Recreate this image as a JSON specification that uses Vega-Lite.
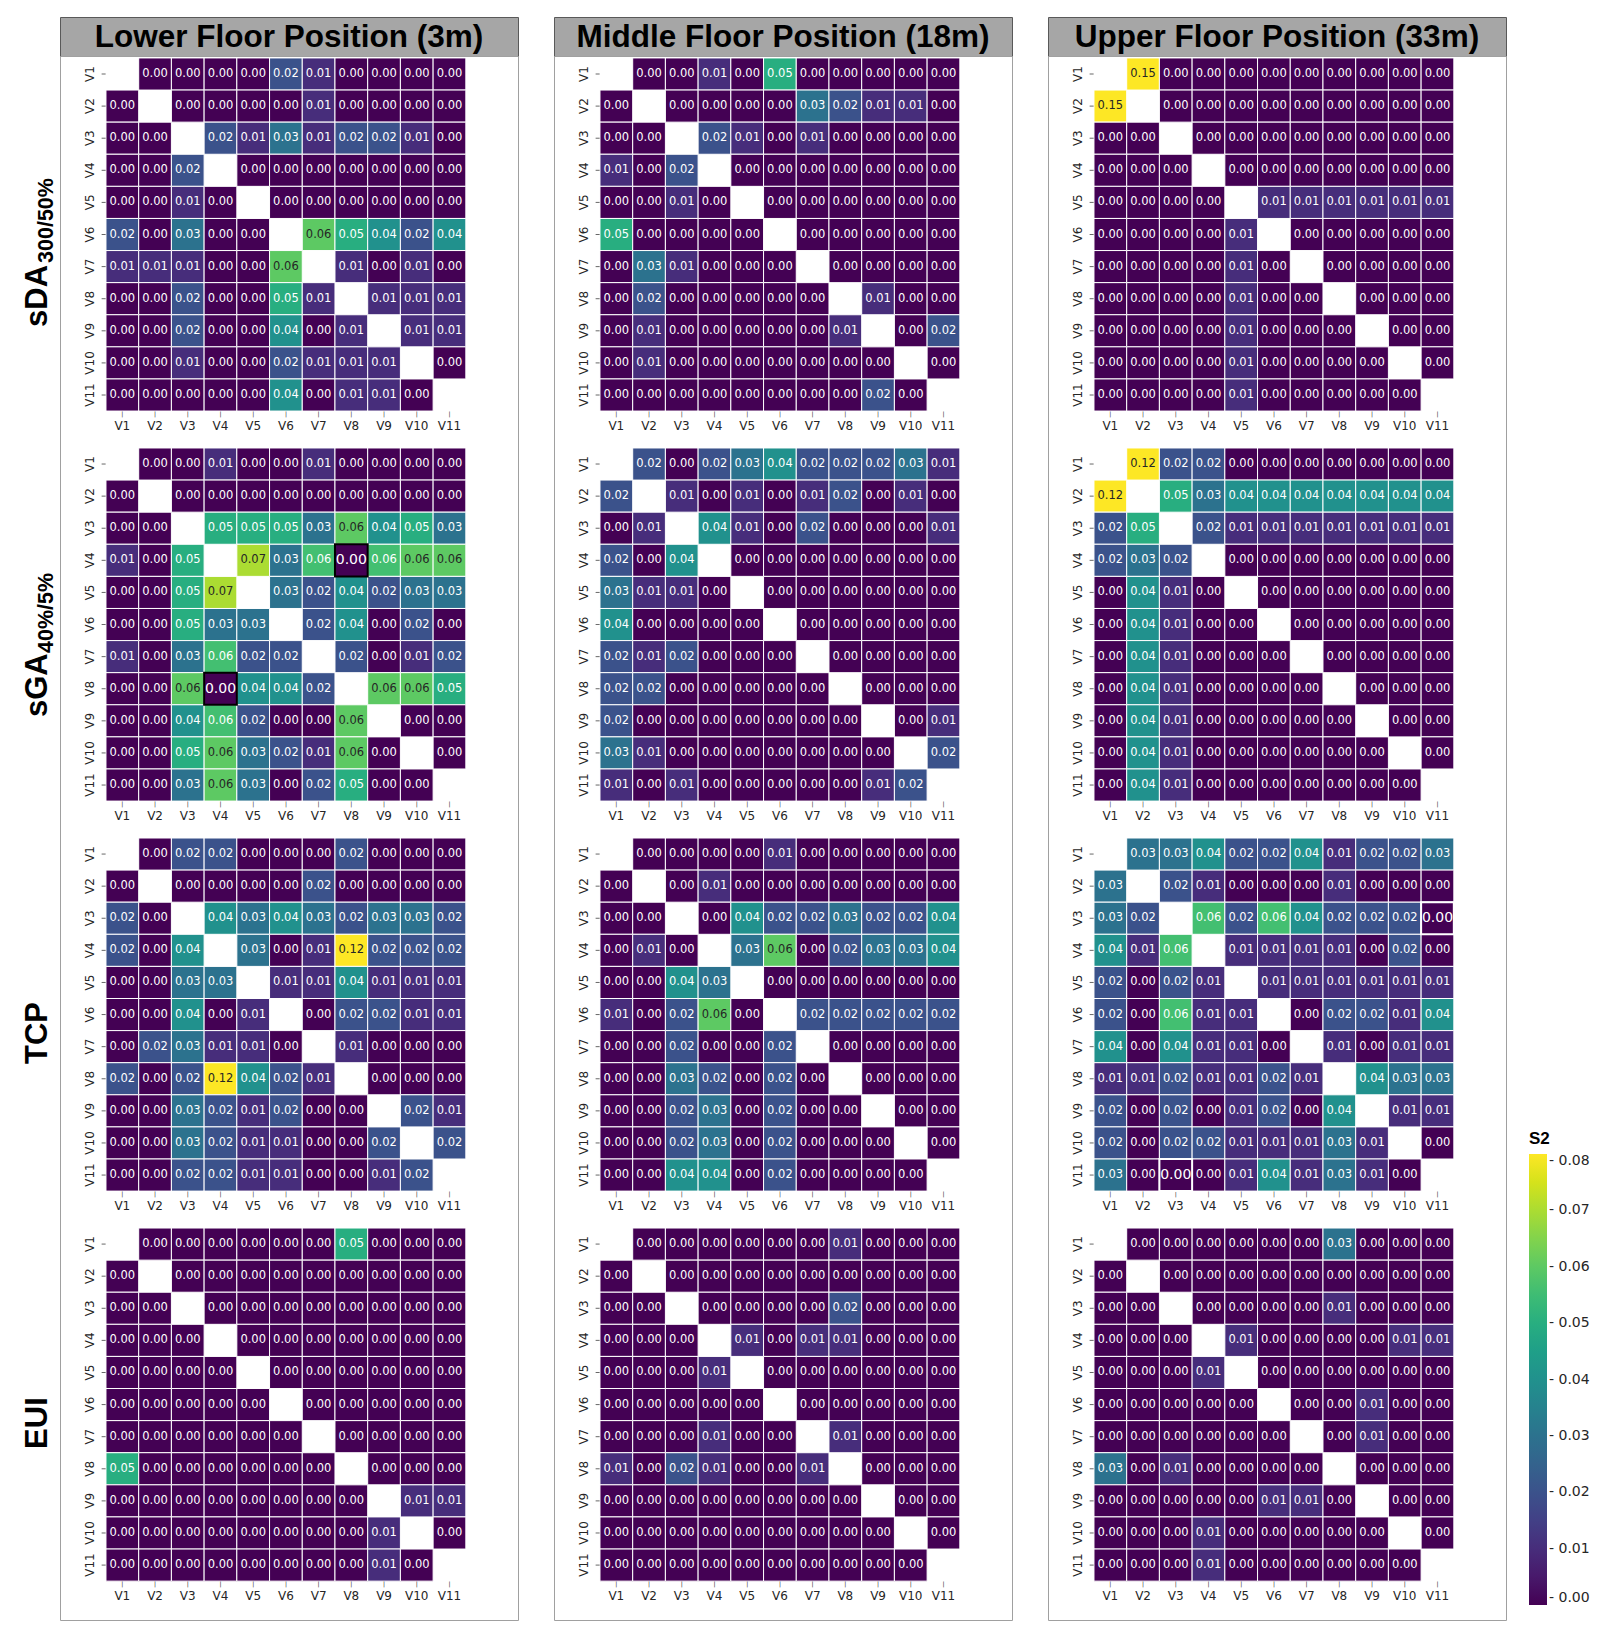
{
"$schema":"https://vega.github.io/schema/vega-lite/v6.json",
"padding":{"left":21,"top":16,"right":5,"bottom":5},
"autosize":{"type":"pad"},
"background":"white",
"config":{"view":{"stroke":null},"font":"DejaVu Sans"},
"datasets":{
"rows":[{"m":"sDA","main":"sDA","sub":"300/50%"},{"m":"sGA","main":"sGA","sub":"40%/5%"},{"m":"TCP","main":"TCP","sub":""},{"m":"EUI","main":"EUI","sub":""}],
"hl":[{"f":"L","m":"sGA","r":"V4","c":"V8","v":0},{"f":"L","m":"sGA","r":"V8","c":"V4","v":0},{"f":"U","m":"TCP","r":"V3","c":"V11","v":0},{"f":"U","m":"TCP","r":"V11","c":"V3","v":0}],
"L":[
{"m":"sDA","r":"V1","c":"V2","v":0},{"m":"sDA","r":"V1","c":"V3","v":0},{"m":"sDA","r":"V1","c":"V4","v":0},{"m":"sDA","r":"V1","c":"V5","v":0},{"m":"sDA","r":"V1","c":"V6","v":0.02},{"m":"sDA","r":"V1","c":"V7","v":0.01},{"m":"sDA","r":"V1","c":"V8","v":0},{"m":"sDA","r":"V1","c":"V9","v":0},{"m":"sDA","r":"V1","c":"V10","v":0},{"m":"sDA","r":"V1","c":"V11","v":0},
{"m":"sDA","r":"V2","c":"V1","v":0},{"m":"sDA","r":"V2","c":"V3","v":0},{"m":"sDA","r":"V2","c":"V4","v":0},{"m":"sDA","r":"V2","c":"V5","v":0},{"m":"sDA","r":"V2","c":"V6","v":0},{"m":"sDA","r":"V2","c":"V7","v":0.01},{"m":"sDA","r":"V2","c":"V8","v":0},{"m":"sDA","r":"V2","c":"V9","v":0},{"m":"sDA","r":"V2","c":"V10","v":0},{"m":"sDA","r":"V2","c":"V11","v":0},
{"m":"sDA","r":"V3","c":"V1","v":0},{"m":"sDA","r":"V3","c":"V2","v":0},{"m":"sDA","r":"V3","c":"V4","v":0.02},{"m":"sDA","r":"V3","c":"V5","v":0.01},{"m":"sDA","r":"V3","c":"V6","v":0.03},{"m":"sDA","r":"V3","c":"V7","v":0.01},{"m":"sDA","r":"V3","c":"V8","v":0.02},{"m":"sDA","r":"V3","c":"V9","v":0.02},{"m":"sDA","r":"V3","c":"V10","v":0.01},{"m":"sDA","r":"V3","c":"V11","v":0},
{"m":"sDA","r":"V4","c":"V1","v":0},{"m":"sDA","r":"V4","c":"V2","v":0},{"m":"sDA","r":"V4","c":"V3","v":0.02},{"m":"sDA","r":"V4","c":"V5","v":0},{"m":"sDA","r":"V4","c":"V6","v":0},{"m":"sDA","r":"V4","c":"V7","v":0},{"m":"sDA","r":"V4","c":"V8","v":0},{"m":"sDA","r":"V4","c":"V9","v":0},{"m":"sDA","r":"V4","c":"V10","v":0},{"m":"sDA","r":"V4","c":"V11","v":0},
{"m":"sDA","r":"V5","c":"V1","v":0},{"m":"sDA","r":"V5","c":"V2","v":0},{"m":"sDA","r":"V5","c":"V3","v":0.01},{"m":"sDA","r":"V5","c":"V4","v":0},{"m":"sDA","r":"V5","c":"V6","v":0},{"m":"sDA","r":"V5","c":"V7","v":0},{"m":"sDA","r":"V5","c":"V8","v":0},{"m":"sDA","r":"V5","c":"V9","v":0},{"m":"sDA","r":"V5","c":"V10","v":0},{"m":"sDA","r":"V5","c":"V11","v":0},
{"m":"sDA","r":"V6","c":"V1","v":0.02},{"m":"sDA","r":"V6","c":"V2","v":0},{"m":"sDA","r":"V6","c":"V3","v":0.03},{"m":"sDA","r":"V6","c":"V4","v":0},{"m":"sDA","r":"V6","c":"V5","v":0},{"m":"sDA","r":"V6","c":"V7","v":0.06},{"m":"sDA","r":"V6","c":"V8","v":0.05},{"m":"sDA","r":"V6","c":"V9","v":0.04},{"m":"sDA","r":"V6","c":"V10","v":0.02},{"m":"sDA","r":"V6","c":"V11","v":0.04},
{"m":"sDA","r":"V7","c":"V1","v":0.01},{"m":"sDA","r":"V7","c":"V2","v":0.01},{"m":"sDA","r":"V7","c":"V3","v":0.01},{"m":"sDA","r":"V7","c":"V4","v":0},{"m":"sDA","r":"V7","c":"V5","v":0},{"m":"sDA","r":"V7","c":"V6","v":0.06},{"m":"sDA","r":"V7","c":"V8","v":0.01},{"m":"sDA","r":"V7","c":"V9","v":0},{"m":"sDA","r":"V7","c":"V10","v":0.01},{"m":"sDA","r":"V7","c":"V11","v":0},
{"m":"sDA","r":"V8","c":"V1","v":0},{"m":"sDA","r":"V8","c":"V2","v":0},{"m":"sDA","r":"V8","c":"V3","v":0.02},{"m":"sDA","r":"V8","c":"V4","v":0},{"m":"sDA","r":"V8","c":"V5","v":0},{"m":"sDA","r":"V8","c":"V6","v":0.05},{"m":"sDA","r":"V8","c":"V7","v":0.01},{"m":"sDA","r":"V8","c":"V9","v":0.01},{"m":"sDA","r":"V8","c":"V10","v":0.01},{"m":"sDA","r":"V8","c":"V11","v":0.01},
{"m":"sDA","r":"V9","c":"V1","v":0},{"m":"sDA","r":"V9","c":"V2","v":0},{"m":"sDA","r":"V9","c":"V3","v":0.02},{"m":"sDA","r":"V9","c":"V4","v":0},{"m":"sDA","r":"V9","c":"V5","v":0},{"m":"sDA","r":"V9","c":"V6","v":0.04},{"m":"sDA","r":"V9","c":"V7","v":0},{"m":"sDA","r":"V9","c":"V8","v":0.01},{"m":"sDA","r":"V9","c":"V10","v":0.01},{"m":"sDA","r":"V9","c":"V11","v":0.01},
{"m":"sDA","r":"V10","c":"V1","v":0},{"m":"sDA","r":"V10","c":"V2","v":0},{"m":"sDA","r":"V10","c":"V3","v":0.01},{"m":"sDA","r":"V10","c":"V4","v":0},{"m":"sDA","r":"V10","c":"V5","v":0},{"m":"sDA","r":"V10","c":"V6","v":0.02},{"m":"sDA","r":"V10","c":"V7","v":0.01},{"m":"sDA","r":"V10","c":"V8","v":0.01},{"m":"sDA","r":"V10","c":"V9","v":0.01},{"m":"sDA","r":"V10","c":"V11","v":0},
{"m":"sDA","r":"V11","c":"V1","v":0},{"m":"sDA","r":"V11","c":"V2","v":0},{"m":"sDA","r":"V11","c":"V3","v":0},{"m":"sDA","r":"V11","c":"V4","v":0},{"m":"sDA","r":"V11","c":"V5","v":0},{"m":"sDA","r":"V11","c":"V6","v":0.04},{"m":"sDA","r":"V11","c":"V7","v":0},{"m":"sDA","r":"V11","c":"V8","v":0.01},{"m":"sDA","r":"V11","c":"V9","v":0.01},{"m":"sDA","r":"V11","c":"V10","v":0},
{"m":"sGA","r":"V1","c":"V2","v":0},{"m":"sGA","r":"V1","c":"V3","v":0},{"m":"sGA","r":"V1","c":"V4","v":0.01},{"m":"sGA","r":"V1","c":"V5","v":0},{"m":"sGA","r":"V1","c":"V6","v":0},{"m":"sGA","r":"V1","c":"V7","v":0.01},{"m":"sGA","r":"V1","c":"V8","v":0},{"m":"sGA","r":"V1","c":"V9","v":0},{"m":"sGA","r":"V1","c":"V10","v":0},{"m":"sGA","r":"V1","c":"V11","v":0},
{"m":"sGA","r":"V2","c":"V1","v":0},{"m":"sGA","r":"V2","c":"V3","v":0},{"m":"sGA","r":"V2","c":"V4","v":0},{"m":"sGA","r":"V2","c":"V5","v":0},{"m":"sGA","r":"V2","c":"V6","v":0},{"m":"sGA","r":"V2","c":"V7","v":0},{"m":"sGA","r":"V2","c":"V8","v":0},{"m":"sGA","r":"V2","c":"V9","v":0},{"m":"sGA","r":"V2","c":"V10","v":0},{"m":"sGA","r":"V2","c":"V11","v":0},
{"m":"sGA","r":"V3","c":"V1","v":0},{"m":"sGA","r":"V3","c":"V2","v":0},{"m":"sGA","r":"V3","c":"V4","v":0.05},{"m":"sGA","r":"V3","c":"V5","v":0.05},{"m":"sGA","r":"V3","c":"V6","v":0.05},{"m":"sGA","r":"V3","c":"V7","v":0.03},{"m":"sGA","r":"V3","c":"V8","v":0.06},{"m":"sGA","r":"V3","c":"V9","v":0.04},{"m":"sGA","r":"V3","c":"V10","v":0.05},{"m":"sGA","r":"V3","c":"V11","v":0.03},
{"m":"sGA","r":"V4","c":"V1","v":0.01},{"m":"sGA","r":"V4","c":"V2","v":0},{"m":"sGA","r":"V4","c":"V3","v":0.05},{"m":"sGA","r":"V4","c":"V5","v":0.07},{"m":"sGA","r":"V4","c":"V6","v":0.03},{"m":"sGA","r":"V4","c":"V7","v":0.056},{"m":"sGA","r":"V4","c":"V8","v":0},{"m":"sGA","r":"V4","c":"V9","v":0.056},{"m":"sGA","r":"V4","c":"V10","v":0.06},{"m":"sGA","r":"V4","c":"V11","v":0.06},
{"m":"sGA","r":"V5","c":"V1","v":0},{"m":"sGA","r":"V5","c":"V2","v":0},{"m":"sGA","r":"V5","c":"V3","v":0.05},{"m":"sGA","r":"V5","c":"V4","v":0.07},{"m":"sGA","r":"V5","c":"V6","v":0.03},{"m":"sGA","r":"V5","c":"V7","v":0.02},{"m":"sGA","r":"V5","c":"V8","v":0.04},{"m":"sGA","r":"V5","c":"V9","v":0.02},{"m":"sGA","r":"V5","c":"V10","v":0.03},{"m":"sGA","r":"V5","c":"V11","v":0.03},
{"m":"sGA","r":"V6","c":"V1","v":0},{"m":"sGA","r":"V6","c":"V2","v":0},{"m":"sGA","r":"V6","c":"V3","v":0.05},{"m":"sGA","r":"V6","c":"V4","v":0.03},{"m":"sGA","r":"V6","c":"V5","v":0.03},{"m":"sGA","r":"V6","c":"V7","v":0.02},{"m":"sGA","r":"V6","c":"V8","v":0.04},{"m":"sGA","r":"V6","c":"V9","v":0},{"m":"sGA","r":"V6","c":"V10","v":0.02},{"m":"sGA","r":"V6","c":"V11","v":0},
{"m":"sGA","r":"V7","c":"V1","v":0.01},{"m":"sGA","r":"V7","c":"V2","v":0},{"m":"sGA","r":"V7","c":"V3","v":0.03},{"m":"sGA","r":"V7","c":"V4","v":0.056},{"m":"sGA","r":"V7","c":"V5","v":0.02},{"m":"sGA","r":"V7","c":"V6","v":0.02},{"m":"sGA","r":"V7","c":"V8","v":0.02},{"m":"sGA","r":"V7","c":"V9","v":0},{"m":"sGA","r":"V7","c":"V10","v":0.01},{"m":"sGA","r":"V7","c":"V11","v":0.02},
{"m":"sGA","r":"V8","c":"V1","v":0},{"m":"sGA","r":"V8","c":"V2","v":0},{"m":"sGA","r":"V8","c":"V3","v":0.06},{"m":"sGA","r":"V8","c":"V4","v":0},{"m":"sGA","r":"V8","c":"V5","v":0.04},{"m":"sGA","r":"V8","c":"V6","v":0.04},{"m":"sGA","r":"V8","c":"V7","v":0.02},{"m":"sGA","r":"V8","c":"V9","v":0.06},{"m":"sGA","r":"V8","c":"V10","v":0.06},{"m":"sGA","r":"V8","c":"V11","v":0.05},
{"m":"sGA","r":"V9","c":"V1","v":0},{"m":"sGA","r":"V9","c":"V2","v":0},{"m":"sGA","r":"V9","c":"V3","v":0.04},{"m":"sGA","r":"V9","c":"V4","v":0.056},{"m":"sGA","r":"V9","c":"V5","v":0.02},{"m":"sGA","r":"V9","c":"V6","v":0},{"m":"sGA","r":"V9","c":"V7","v":0},{"m":"sGA","r":"V9","c":"V8","v":0.06},{"m":"sGA","r":"V9","c":"V10","v":0},{"m":"sGA","r":"V9","c":"V11","v":0},
{"m":"sGA","r":"V10","c":"V1","v":0},{"m":"sGA","r":"V10","c":"V2","v":0},{"m":"sGA","r":"V10","c":"V3","v":0.05},{"m":"sGA","r":"V10","c":"V4","v":0.06},{"m":"sGA","r":"V10","c":"V5","v":0.03},{"m":"sGA","r":"V10","c":"V6","v":0.02},{"m":"sGA","r":"V10","c":"V7","v":0.01},{"m":"sGA","r":"V10","c":"V8","v":0.06},{"m":"sGA","r":"V10","c":"V9","v":0},{"m":"sGA","r":"V10","c":"V11","v":0},
{"m":"sGA","r":"V11","c":"V1","v":0},{"m":"sGA","r":"V11","c":"V2","v":0},{"m":"sGA","r":"V11","c":"V3","v":0.03},{"m":"sGA","r":"V11","c":"V4","v":0.06},{"m":"sGA","r":"V11","c":"V5","v":0.03},{"m":"sGA","r":"V11","c":"V6","v":0},{"m":"sGA","r":"V11","c":"V7","v":0.02},{"m":"sGA","r":"V11","c":"V8","v":0.05},{"m":"sGA","r":"V11","c":"V9","v":0},{"m":"sGA","r":"V11","c":"V10","v":0},
{"m":"TCP","r":"V1","c":"V2","v":0},{"m":"TCP","r":"V1","c":"V3","v":0.02},{"m":"TCP","r":"V1","c":"V4","v":0.02},{"m":"TCP","r":"V1","c":"V5","v":0},{"m":"TCP","r":"V1","c":"V6","v":0},{"m":"TCP","r":"V1","c":"V7","v":0},{"m":"TCP","r":"V1","c":"V8","v":0.02},{"m":"TCP","r":"V1","c":"V9","v":0},{"m":"TCP","r":"V1","c":"V10","v":0},{"m":"TCP","r":"V1","c":"V11","v":0},
{"m":"TCP","r":"V2","c":"V1","v":0},{"m":"TCP","r":"V2","c":"V3","v":0},{"m":"TCP","r":"V2","c":"V4","v":0},{"m":"TCP","r":"V2","c":"V5","v":0},{"m":"TCP","r":"V2","c":"V6","v":0},{"m":"TCP","r":"V2","c":"V7","v":0.02},{"m":"TCP","r":"V2","c":"V8","v":0},{"m":"TCP","r":"V2","c":"V9","v":0},{"m":"TCP","r":"V2","c":"V10","v":0},{"m":"TCP","r":"V2","c":"V11","v":0},
{"m":"TCP","r":"V3","c":"V1","v":0.02},{"m":"TCP","r":"V3","c":"V2","v":0},{"m":"TCP","r":"V3","c":"V4","v":0.04},{"m":"TCP","r":"V3","c":"V5","v":0.03},{"m":"TCP","r":"V3","c":"V6","v":0.04},{"m":"TCP","r":"V3","c":"V7","v":0.03},{"m":"TCP","r":"V3","c":"V8","v":0.02},{"m":"TCP","r":"V3","c":"V9","v":0.03},{"m":"TCP","r":"V3","c":"V10","v":0.03},{"m":"TCP","r":"V3","c":"V11","v":0.02},
{"m":"TCP","r":"V4","c":"V1","v":0.02},{"m":"TCP","r":"V4","c":"V2","v":0},{"m":"TCP","r":"V4","c":"V3","v":0.04},{"m":"TCP","r":"V4","c":"V5","v":0.03},{"m":"TCP","r":"V4","c":"V6","v":0},{"m":"TCP","r":"V4","c":"V7","v":0.01},{"m":"TCP","r":"V4","c":"V8","v":0.12},{"m":"TCP","r":"V4","c":"V9","v":0.02},{"m":"TCP","r":"V4","c":"V10","v":0.02},{"m":"TCP","r":"V4","c":"V11","v":0.02},
{"m":"TCP","r":"V5","c":"V1","v":0},{"m":"TCP","r":"V5","c":"V2","v":0},{"m":"TCP","r":"V5","c":"V3","v":0.03},{"m":"TCP","r":"V5","c":"V4","v":0.03},{"m":"TCP","r":"V5","c":"V6","v":0.01},{"m":"TCP","r":"V5","c":"V7","v":0.01},{"m":"TCP","r":"V5","c":"V8","v":0.04},{"m":"TCP","r":"V5","c":"V9","v":0.01},{"m":"TCP","r":"V5","c":"V10","v":0.01},{"m":"TCP","r":"V5","c":"V11","v":0.01},
{"m":"TCP","r":"V6","c":"V1","v":0},{"m":"TCP","r":"V6","c":"V2","v":0},{"m":"TCP","r":"V6","c":"V3","v":0.04},{"m":"TCP","r":"V6","c":"V4","v":0},{"m":"TCP","r":"V6","c":"V5","v":0.01},{"m":"TCP","r":"V6","c":"V7","v":0},{"m":"TCP","r":"V6","c":"V8","v":0.02},{"m":"TCP","r":"V6","c":"V9","v":0.02},{"m":"TCP","r":"V6","c":"V10","v":0.01},{"m":"TCP","r":"V6","c":"V11","v":0.01},
{"m":"TCP","r":"V7","c":"V1","v":0},{"m":"TCP","r":"V7","c":"V2","v":0.02},{"m":"TCP","r":"V7","c":"V3","v":0.03},{"m":"TCP","r":"V7","c":"V4","v":0.01},{"m":"TCP","r":"V7","c":"V5","v":0.01},{"m":"TCP","r":"V7","c":"V6","v":0},{"m":"TCP","r":"V7","c":"V8","v":0.01},{"m":"TCP","r":"V7","c":"V9","v":0},{"m":"TCP","r":"V7","c":"V10","v":0},{"m":"TCP","r":"V7","c":"V11","v":0},
{"m":"TCP","r":"V8","c":"V1","v":0.02},{"m":"TCP","r":"V8","c":"V2","v":0},{"m":"TCP","r":"V8","c":"V3","v":0.02},{"m":"TCP","r":"V8","c":"V4","v":0.12},{"m":"TCP","r":"V8","c":"V5","v":0.04},{"m":"TCP","r":"V8","c":"V6","v":0.02},{"m":"TCP","r":"V8","c":"V7","v":0.01},{"m":"TCP","r":"V8","c":"V9","v":0},{"m":"TCP","r":"V8","c":"V10","v":0},{"m":"TCP","r":"V8","c":"V11","v":0},
{"m":"TCP","r":"V9","c":"V1","v":0},{"m":"TCP","r":"V9","c":"V2","v":0},{"m":"TCP","r":"V9","c":"V3","v":0.03},{"m":"TCP","r":"V9","c":"V4","v":0.02},{"m":"TCP","r":"V9","c":"V5","v":0.01},{"m":"TCP","r":"V9","c":"V6","v":0.02},{"m":"TCP","r":"V9","c":"V7","v":0},{"m":"TCP","r":"V9","c":"V8","v":0},{"m":"TCP","r":"V9","c":"V10","v":0.02},{"m":"TCP","r":"V9","c":"V11","v":0.01},
{"m":"TCP","r":"V10","c":"V1","v":0},{"m":"TCP","r":"V10","c":"V2","v":0},{"m":"TCP","r":"V10","c":"V3","v":0.03},{"m":"TCP","r":"V10","c":"V4","v":0.02},{"m":"TCP","r":"V10","c":"V5","v":0.01},{"m":"TCP","r":"V10","c":"V6","v":0.01},{"m":"TCP","r":"V10","c":"V7","v":0},{"m":"TCP","r":"V10","c":"V8","v":0},{"m":"TCP","r":"V10","c":"V9","v":0.02},{"m":"TCP","r":"V10","c":"V11","v":0.02},
{"m":"TCP","r":"V11","c":"V1","v":0},{"m":"TCP","r":"V11","c":"V2","v":0},{"m":"TCP","r":"V11","c":"V3","v":0.02},{"m":"TCP","r":"V11","c":"V4","v":0.02},{"m":"TCP","r":"V11","c":"V5","v":0.01},{"m":"TCP","r":"V11","c":"V6","v":0.01},{"m":"TCP","r":"V11","c":"V7","v":0},{"m":"TCP","r":"V11","c":"V8","v":0},{"m":"TCP","r":"V11","c":"V9","v":0.01},{"m":"TCP","r":"V11","c":"V10","v":0.02},
{"m":"EUI","r":"V1","c":"V2","v":0},{"m":"EUI","r":"V1","c":"V3","v":0},{"m":"EUI","r":"V1","c":"V4","v":0},{"m":"EUI","r":"V1","c":"V5","v":0},{"m":"EUI","r":"V1","c":"V6","v":0},{"m":"EUI","r":"V1","c":"V7","v":0},{"m":"EUI","r":"V1","c":"V8","v":0.05},{"m":"EUI","r":"V1","c":"V9","v":0},{"m":"EUI","r":"V1","c":"V10","v":0},{"m":"EUI","r":"V1","c":"V11","v":0},
{"m":"EUI","r":"V2","c":"V1","v":0},{"m":"EUI","r":"V2","c":"V3","v":0},{"m":"EUI","r":"V2","c":"V4","v":0},{"m":"EUI","r":"V2","c":"V5","v":0},{"m":"EUI","r":"V2","c":"V6","v":0},{"m":"EUI","r":"V2","c":"V7","v":0},{"m":"EUI","r":"V2","c":"V8","v":0},{"m":"EUI","r":"V2","c":"V9","v":0},{"m":"EUI","r":"V2","c":"V10","v":0},{"m":"EUI","r":"V2","c":"V11","v":0},
{"m":"EUI","r":"V3","c":"V1","v":0},{"m":"EUI","r":"V3","c":"V2","v":0},{"m":"EUI","r":"V3","c":"V4","v":0},{"m":"EUI","r":"V3","c":"V5","v":0},{"m":"EUI","r":"V3","c":"V6","v":0},{"m":"EUI","r":"V3","c":"V7","v":0},{"m":"EUI","r":"V3","c":"V8","v":0},{"m":"EUI","r":"V3","c":"V9","v":0},{"m":"EUI","r":"V3","c":"V10","v":0},{"m":"EUI","r":"V3","c":"V11","v":0},
{"m":"EUI","r":"V4","c":"V1","v":0},{"m":"EUI","r":"V4","c":"V2","v":0},{"m":"EUI","r":"V4","c":"V3","v":0},{"m":"EUI","r":"V4","c":"V5","v":0},{"m":"EUI","r":"V4","c":"V6","v":0},{"m":"EUI","r":"V4","c":"V7","v":0},{"m":"EUI","r":"V4","c":"V8","v":0},{"m":"EUI","r":"V4","c":"V9","v":0},{"m":"EUI","r":"V4","c":"V10","v":0},{"m":"EUI","r":"V4","c":"V11","v":0},
{"m":"EUI","r":"V5","c":"V1","v":0},{"m":"EUI","r":"V5","c":"V2","v":0},{"m":"EUI","r":"V5","c":"V3","v":0},{"m":"EUI","r":"V5","c":"V4","v":0},{"m":"EUI","r":"V5","c":"V6","v":0},{"m":"EUI","r":"V5","c":"V7","v":0},{"m":"EUI","r":"V5","c":"V8","v":0},{"m":"EUI","r":"V5","c":"V9","v":0},{"m":"EUI","r":"V5","c":"V10","v":0},{"m":"EUI","r":"V5","c":"V11","v":0},
{"m":"EUI","r":"V6","c":"V1","v":0},{"m":"EUI","r":"V6","c":"V2","v":0},{"m":"EUI","r":"V6","c":"V3","v":0},{"m":"EUI","r":"V6","c":"V4","v":0},{"m":"EUI","r":"V6","c":"V5","v":0},{"m":"EUI","r":"V6","c":"V7","v":0},{"m":"EUI","r":"V6","c":"V8","v":0},{"m":"EUI","r":"V6","c":"V9","v":0},{"m":"EUI","r":"V6","c":"V10","v":0},{"m":"EUI","r":"V6","c":"V11","v":0},
{"m":"EUI","r":"V7","c":"V1","v":0},{"m":"EUI","r":"V7","c":"V2","v":0},{"m":"EUI","r":"V7","c":"V3","v":0},{"m":"EUI","r":"V7","c":"V4","v":0},{"m":"EUI","r":"V7","c":"V5","v":0},{"m":"EUI","r":"V7","c":"V6","v":0},{"m":"EUI","r":"V7","c":"V8","v":0},{"m":"EUI","r":"V7","c":"V9","v":0},{"m":"EUI","r":"V7","c":"V10","v":0},{"m":"EUI","r":"V7","c":"V11","v":0},
{"m":"EUI","r":"V8","c":"V1","v":0.05},{"m":"EUI","r":"V8","c":"V2","v":0},{"m":"EUI","r":"V8","c":"V3","v":0},{"m":"EUI","r":"V8","c":"V4","v":0},{"m":"EUI","r":"V8","c":"V5","v":0},{"m":"EUI","r":"V8","c":"V6","v":0},{"m":"EUI","r":"V8","c":"V7","v":0},{"m":"EUI","r":"V8","c":"V9","v":0},{"m":"EUI","r":"V8","c":"V10","v":0},{"m":"EUI","r":"V8","c":"V11","v":0},
{"m":"EUI","r":"V9","c":"V1","v":0},{"m":"EUI","r":"V9","c":"V2","v":0},{"m":"EUI","r":"V9","c":"V3","v":0},{"m":"EUI","r":"V9","c":"V4","v":0},{"m":"EUI","r":"V9","c":"V5","v":0},{"m":"EUI","r":"V9","c":"V6","v":0},{"m":"EUI","r":"V9","c":"V7","v":0},{"m":"EUI","r":"V9","c":"V8","v":0},{"m":"EUI","r":"V9","c":"V10","v":0.01},{"m":"EUI","r":"V9","c":"V11","v":0.01},
{"m":"EUI","r":"V10","c":"V1","v":0},{"m":"EUI","r":"V10","c":"V2","v":0},{"m":"EUI","r":"V10","c":"V3","v":0},{"m":"EUI","r":"V10","c":"V4","v":0},{"m":"EUI","r":"V10","c":"V5","v":0},{"m":"EUI","r":"V10","c":"V6","v":0},{"m":"EUI","r":"V10","c":"V7","v":0},{"m":"EUI","r":"V10","c":"V8","v":0},{"m":"EUI","r":"V10","c":"V9","v":0.01},{"m":"EUI","r":"V10","c":"V11","v":0},
{"m":"EUI","r":"V11","c":"V1","v":0},{"m":"EUI","r":"V11","c":"V2","v":0},{"m":"EUI","r":"V11","c":"V3","v":0},{"m":"EUI","r":"V11","c":"V4","v":0},{"m":"EUI","r":"V11","c":"V5","v":0},{"m":"EUI","r":"V11","c":"V6","v":0},{"m":"EUI","r":"V11","c":"V7","v":0},{"m":"EUI","r":"V11","c":"V8","v":0},{"m":"EUI","r":"V11","c":"V9","v":0.01},{"m":"EUI","r":"V11","c":"V10","v":0}
],
"M":[
{"m":"sDA","r":"V1","c":"V2","v":0},{"m":"sDA","r":"V1","c":"V3","v":0},{"m":"sDA","r":"V1","c":"V4","v":0.01},{"m":"sDA","r":"V1","c":"V5","v":0},{"m":"sDA","r":"V1","c":"V6","v":0.05},{"m":"sDA","r":"V1","c":"V7","v":0},{"m":"sDA","r":"V1","c":"V8","v":0},{"m":"sDA","r":"V1","c":"V9","v":0},{"m":"sDA","r":"V1","c":"V10","v":0},{"m":"sDA","r":"V1","c":"V11","v":0},
{"m":"sDA","r":"V2","c":"V1","v":0},{"m":"sDA","r":"V2","c":"V3","v":0},{"m":"sDA","r":"V2","c":"V4","v":0},{"m":"sDA","r":"V2","c":"V5","v":0},{"m":"sDA","r":"V2","c":"V6","v":0},{"m":"sDA","r":"V2","c":"V7","v":0.03},{"m":"sDA","r":"V2","c":"V8","v":0.02},{"m":"sDA","r":"V2","c":"V9","v":0.01},{"m":"sDA","r":"V2","c":"V10","v":0.01},{"m":"sDA","r":"V2","c":"V11","v":0},
{"m":"sDA","r":"V3","c":"V1","v":0},{"m":"sDA","r":"V3","c":"V2","v":0},{"m":"sDA","r":"V3","c":"V4","v":0.02},{"m":"sDA","r":"V3","c":"V5","v":0.01},{"m":"sDA","r":"V3","c":"V6","v":0},{"m":"sDA","r":"V3","c":"V7","v":0.01},{"m":"sDA","r":"V3","c":"V8","v":0},{"m":"sDA","r":"V3","c":"V9","v":0},{"m":"sDA","r":"V3","c":"V10","v":0},{"m":"sDA","r":"V3","c":"V11","v":0},
{"m":"sDA","r":"V4","c":"V1","v":0.01},{"m":"sDA","r":"V4","c":"V2","v":0},{"m":"sDA","r":"V4","c":"V3","v":0.02},{"m":"sDA","r":"V4","c":"V5","v":0},{"m":"sDA","r":"V4","c":"V6","v":0},{"m":"sDA","r":"V4","c":"V7","v":0},{"m":"sDA","r":"V4","c":"V8","v":0},{"m":"sDA","r":"V4","c":"V9","v":0},{"m":"sDA","r":"V4","c":"V10","v":0},{"m":"sDA","r":"V4","c":"V11","v":0},
{"m":"sDA","r":"V5","c":"V1","v":0},{"m":"sDA","r":"V5","c":"V2","v":0},{"m":"sDA","r":"V5","c":"V3","v":0.01},{"m":"sDA","r":"V5","c":"V4","v":0},{"m":"sDA","r":"V5","c":"V6","v":0},{"m":"sDA","r":"V5","c":"V7","v":0},{"m":"sDA","r":"V5","c":"V8","v":0},{"m":"sDA","r":"V5","c":"V9","v":0},{"m":"sDA","r":"V5","c":"V10","v":0},{"m":"sDA","r":"V5","c":"V11","v":0},
{"m":"sDA","r":"V6","c":"V1","v":0.05},{"m":"sDA","r":"V6","c":"V2","v":0},{"m":"sDA","r":"V6","c":"V3","v":0},{"m":"sDA","r":"V6","c":"V4","v":0},{"m":"sDA","r":"V6","c":"V5","v":0},{"m":"sDA","r":"V6","c":"V7","v":0},{"m":"sDA","r":"V6","c":"V8","v":0},{"m":"sDA","r":"V6","c":"V9","v":0},{"m":"sDA","r":"V6","c":"V10","v":0},{"m":"sDA","r":"V6","c":"V11","v":0},
{"m":"sDA","r":"V7","c":"V1","v":0},{"m":"sDA","r":"V7","c":"V2","v":0.03},{"m":"sDA","r":"V7","c":"V3","v":0.01},{"m":"sDA","r":"V7","c":"V4","v":0},{"m":"sDA","r":"V7","c":"V5","v":0},{"m":"sDA","r":"V7","c":"V6","v":0},{"m":"sDA","r":"V7","c":"V8","v":0},{"m":"sDA","r":"V7","c":"V9","v":0},{"m":"sDA","r":"V7","c":"V10","v":0},{"m":"sDA","r":"V7","c":"V11","v":0},
{"m":"sDA","r":"V8","c":"V1","v":0},{"m":"sDA","r":"V8","c":"V2","v":0.02},{"m":"sDA","r":"V8","c":"V3","v":0},{"m":"sDA","r":"V8","c":"V4","v":0},{"m":"sDA","r":"V8","c":"V5","v":0},{"m":"sDA","r":"V8","c":"V6","v":0},{"m":"sDA","r":"V8","c":"V7","v":0},{"m":"sDA","r":"V8","c":"V9","v":0.01},{"m":"sDA","r":"V8","c":"V10","v":0},{"m":"sDA","r":"V8","c":"V11","v":0},
{"m":"sDA","r":"V9","c":"V1","v":0},{"m":"sDA","r":"V9","c":"V2","v":0.01},{"m":"sDA","r":"V9","c":"V3","v":0},{"m":"sDA","r":"V9","c":"V4","v":0},{"m":"sDA","r":"V9","c":"V5","v":0},{"m":"sDA","r":"V9","c":"V6","v":0},{"m":"sDA","r":"V9","c":"V7","v":0},{"m":"sDA","r":"V9","c":"V8","v":0.01},{"m":"sDA","r":"V9","c":"V10","v":0},{"m":"sDA","r":"V9","c":"V11","v":0.02},
{"m":"sDA","r":"V10","c":"V1","v":0},{"m":"sDA","r":"V10","c":"V2","v":0.01},{"m":"sDA","r":"V10","c":"V3","v":0},{"m":"sDA","r":"V10","c":"V4","v":0},{"m":"sDA","r":"V10","c":"V5","v":0},{"m":"sDA","r":"V10","c":"V6","v":0},{"m":"sDA","r":"V10","c":"V7","v":0},{"m":"sDA","r":"V10","c":"V8","v":0},{"m":"sDA","r":"V10","c":"V9","v":0},{"m":"sDA","r":"V10","c":"V11","v":0},
{"m":"sDA","r":"V11","c":"V1","v":0},{"m":"sDA","r":"V11","c":"V2","v":0},{"m":"sDA","r":"V11","c":"V3","v":0},{"m":"sDA","r":"V11","c":"V4","v":0},{"m":"sDA","r":"V11","c":"V5","v":0},{"m":"sDA","r":"V11","c":"V6","v":0},{"m":"sDA","r":"V11","c":"V7","v":0},{"m":"sDA","r":"V11","c":"V8","v":0},{"m":"sDA","r":"V11","c":"V9","v":0.02},{"m":"sDA","r":"V11","c":"V10","v":0},
{"m":"sGA","r":"V1","c":"V2","v":0.02},{"m":"sGA","r":"V1","c":"V3","v":0},{"m":"sGA","r":"V1","c":"V4","v":0.02},{"m":"sGA","r":"V1","c":"V5","v":0.03},{"m":"sGA","r":"V1","c":"V6","v":0.04},{"m":"sGA","r":"V1","c":"V7","v":0.02},{"m":"sGA","r":"V1","c":"V8","v":0.02},{"m":"sGA","r":"V1","c":"V9","v":0.02},{"m":"sGA","r":"V1","c":"V10","v":0.03},{"m":"sGA","r":"V1","c":"V11","v":0.01},
{"m":"sGA","r":"V2","c":"V1","v":0.02},{"m":"sGA","r":"V2","c":"V3","v":0.01},{"m":"sGA","r":"V2","c":"V4","v":0},{"m":"sGA","r":"V2","c":"V5","v":0.01},{"m":"sGA","r":"V2","c":"V6","v":0},{"m":"sGA","r":"V2","c":"V7","v":0.01},{"m":"sGA","r":"V2","c":"V8","v":0.02},{"m":"sGA","r":"V2","c":"V9","v":0},{"m":"sGA","r":"V2","c":"V10","v":0.01},{"m":"sGA","r":"V2","c":"V11","v":0},
{"m":"sGA","r":"V3","c":"V1","v":0},{"m":"sGA","r":"V3","c":"V2","v":0.01},{"m":"sGA","r":"V3","c":"V4","v":0.04},{"m":"sGA","r":"V3","c":"V5","v":0.01},{"m":"sGA","r":"V3","c":"V6","v":0},{"m":"sGA","r":"V3","c":"V7","v":0.02},{"m":"sGA","r":"V3","c":"V8","v":0},{"m":"sGA","r":"V3","c":"V9","v":0},{"m":"sGA","r":"V3","c":"V10","v":0},{"m":"sGA","r":"V3","c":"V11","v":0.01},
{"m":"sGA","r":"V4","c":"V1","v":0.02},{"m":"sGA","r":"V4","c":"V2","v":0},{"m":"sGA","r":"V4","c":"V3","v":0.04},{"m":"sGA","r":"V4","c":"V5","v":0},{"m":"sGA","r":"V4","c":"V6","v":0},{"m":"sGA","r":"V4","c":"V7","v":0},{"m":"sGA","r":"V4","c":"V8","v":0},{"m":"sGA","r":"V4","c":"V9","v":0},{"m":"sGA","r":"V4","c":"V10","v":0},{"m":"sGA","r":"V4","c":"V11","v":0},
{"m":"sGA","r":"V5","c":"V1","v":0.03},{"m":"sGA","r":"V5","c":"V2","v":0.01},{"m":"sGA","r":"V5","c":"V3","v":0.01},{"m":"sGA","r":"V5","c":"V4","v":0},{"m":"sGA","r":"V5","c":"V6","v":0},{"m":"sGA","r":"V5","c":"V7","v":0},{"m":"sGA","r":"V5","c":"V8","v":0},{"m":"sGA","r":"V5","c":"V9","v":0},{"m":"sGA","r":"V5","c":"V10","v":0},{"m":"sGA","r":"V5","c":"V11","v":0},
{"m":"sGA","r":"V6","c":"V1","v":0.04},{"m":"sGA","r":"V6","c":"V2","v":0},{"m":"sGA","r":"V6","c":"V3","v":0},{"m":"sGA","r":"V6","c":"V4","v":0},{"m":"sGA","r":"V6","c":"V5","v":0},{"m":"sGA","r":"V6","c":"V7","v":0},{"m":"sGA","r":"V6","c":"V8","v":0},{"m":"sGA","r":"V6","c":"V9","v":0},{"m":"sGA","r":"V6","c":"V10","v":0},{"m":"sGA","r":"V6","c":"V11","v":0},
{"m":"sGA","r":"V7","c":"V1","v":0.02},{"m":"sGA","r":"V7","c":"V2","v":0.01},{"m":"sGA","r":"V7","c":"V3","v":0.02},{"m":"sGA","r":"V7","c":"V4","v":0},{"m":"sGA","r":"V7","c":"V5","v":0},{"m":"sGA","r":"V7","c":"V6","v":0},{"m":"sGA","r":"V7","c":"V8","v":0},{"m":"sGA","r":"V7","c":"V9","v":0},{"m":"sGA","r":"V7","c":"V10","v":0},{"m":"sGA","r":"V7","c":"V11","v":0},
{"m":"sGA","r":"V8","c":"V1","v":0.02},{"m":"sGA","r":"V8","c":"V2","v":0.02},{"m":"sGA","r":"V8","c":"V3","v":0},{"m":"sGA","r":"V8","c":"V4","v":0},{"m":"sGA","r":"V8","c":"V5","v":0},{"m":"sGA","r":"V8","c":"V6","v":0},{"m":"sGA","r":"V8","c":"V7","v":0},{"m":"sGA","r":"V8","c":"V9","v":0},{"m":"sGA","r":"V8","c":"V10","v":0},{"m":"sGA","r":"V8","c":"V11","v":0},
{"m":"sGA","r":"V9","c":"V1","v":0.02},{"m":"sGA","r":"V9","c":"V2","v":0},{"m":"sGA","r":"V9","c":"V3","v":0},{"m":"sGA","r":"V9","c":"V4","v":0},{"m":"sGA","r":"V9","c":"V5","v":0},{"m":"sGA","r":"V9","c":"V6","v":0},{"m":"sGA","r":"V9","c":"V7","v":0},{"m":"sGA","r":"V9","c":"V8","v":0},{"m":"sGA","r":"V9","c":"V10","v":0},{"m":"sGA","r":"V9","c":"V11","v":0.01},
{"m":"sGA","r":"V10","c":"V1","v":0.03},{"m":"sGA","r":"V10","c":"V2","v":0.01},{"m":"sGA","r":"V10","c":"V3","v":0},{"m":"sGA","r":"V10","c":"V4","v":0},{"m":"sGA","r":"V10","c":"V5","v":0},{"m":"sGA","r":"V10","c":"V6","v":0},{"m":"sGA","r":"V10","c":"V7","v":0},{"m":"sGA","r":"V10","c":"V8","v":0},{"m":"sGA","r":"V10","c":"V9","v":0},{"m":"sGA","r":"V10","c":"V11","v":0.02},
{"m":"sGA","r":"V11","c":"V1","v":0.01},{"m":"sGA","r":"V11","c":"V2","v":0},{"m":"sGA","r":"V11","c":"V3","v":0.01},{"m":"sGA","r":"V11","c":"V4","v":0},{"m":"sGA","r":"V11","c":"V5","v":0},{"m":"sGA","r":"V11","c":"V6","v":0},{"m":"sGA","r":"V11","c":"V7","v":0},{"m":"sGA","r":"V11","c":"V8","v":0},{"m":"sGA","r":"V11","c":"V9","v":0.01},{"m":"sGA","r":"V11","c":"V10","v":0.02},
{"m":"TCP","r":"V1","c":"V2","v":0},{"m":"TCP","r":"V1","c":"V3","v":0},{"m":"TCP","r":"V1","c":"V4","v":0},{"m":"TCP","r":"V1","c":"V5","v":0},{"m":"TCP","r":"V1","c":"V6","v":0.01},{"m":"TCP","r":"V1","c":"V7","v":0},{"m":"TCP","r":"V1","c":"V8","v":0},{"m":"TCP","r":"V1","c":"V9","v":0},{"m":"TCP","r":"V1","c":"V10","v":0},{"m":"TCP","r":"V1","c":"V11","v":0},
{"m":"TCP","r":"V2","c":"V1","v":0},{"m":"TCP","r":"V2","c":"V3","v":0},{"m":"TCP","r":"V2","c":"V4","v":0.01},{"m":"TCP","r":"V2","c":"V5","v":0},{"m":"TCP","r":"V2","c":"V6","v":0},{"m":"TCP","r":"V2","c":"V7","v":0},{"m":"TCP","r":"V2","c":"V8","v":0},{"m":"TCP","r":"V2","c":"V9","v":0},{"m":"TCP","r":"V2","c":"V10","v":0},{"m":"TCP","r":"V2","c":"V11","v":0},
{"m":"TCP","r":"V3","c":"V1","v":0},{"m":"TCP","r":"V3","c":"V2","v":0},{"m":"TCP","r":"V3","c":"V4","v":0},{"m":"TCP","r":"V3","c":"V5","v":0.04},{"m":"TCP","r":"V3","c":"V6","v":0.02},{"m":"TCP","r":"V3","c":"V7","v":0.02},{"m":"TCP","r":"V3","c":"V8","v":0.03},{"m":"TCP","r":"V3","c":"V9","v":0.02},{"m":"TCP","r":"V3","c":"V10","v":0.02},{"m":"TCP","r":"V3","c":"V11","v":0.04},
{"m":"TCP","r":"V4","c":"V1","v":0},{"m":"TCP","r":"V4","c":"V2","v":0.01},{"m":"TCP","r":"V4","c":"V3","v":0},{"m":"TCP","r":"V4","c":"V5","v":0.03},{"m":"TCP","r":"V4","c":"V6","v":0.06},{"m":"TCP","r":"V4","c":"V7","v":0},{"m":"TCP","r":"V4","c":"V8","v":0.02},{"m":"TCP","r":"V4","c":"V9","v":0.03},{"m":"TCP","r":"V4","c":"V10","v":0.03},{"m":"TCP","r":"V4","c":"V11","v":0.04},
{"m":"TCP","r":"V5","c":"V1","v":0},{"m":"TCP","r":"V5","c":"V2","v":0},{"m":"TCP","r":"V5","c":"V3","v":0.04},{"m":"TCP","r":"V5","c":"V4","v":0.03},{"m":"TCP","r":"V5","c":"V6","v":0},{"m":"TCP","r":"V5","c":"V7","v":0},{"m":"TCP","r":"V5","c":"V8","v":0},{"m":"TCP","r":"V5","c":"V9","v":0},{"m":"TCP","r":"V5","c":"V10","v":0},{"m":"TCP","r":"V5","c":"V11","v":0},
{"m":"TCP","r":"V6","c":"V1","v":0.01},{"m":"TCP","r":"V6","c":"V2","v":0},{"m":"TCP","r":"V6","c":"V3","v":0.02},{"m":"TCP","r":"V6","c":"V4","v":0.06},{"m":"TCP","r":"V6","c":"V5","v":0},{"m":"TCP","r":"V6","c":"V7","v":0.02},{"m":"TCP","r":"V6","c":"V8","v":0.02},{"m":"TCP","r":"V6","c":"V9","v":0.02},{"m":"TCP","r":"V6","c":"V10","v":0.02},{"m":"TCP","r":"V6","c":"V11","v":0.02},
{"m":"TCP","r":"V7","c":"V1","v":0},{"m":"TCP","r":"V7","c":"V2","v":0},{"m":"TCP","r":"V7","c":"V3","v":0.02},{"m":"TCP","r":"V7","c":"V4","v":0},{"m":"TCP","r":"V7","c":"V5","v":0},{"m":"TCP","r":"V7","c":"V6","v":0.02},{"m":"TCP","r":"V7","c":"V8","v":0},{"m":"TCP","r":"V7","c":"V9","v":0},{"m":"TCP","r":"V7","c":"V10","v":0},{"m":"TCP","r":"V7","c":"V11","v":0},
{"m":"TCP","r":"V8","c":"V1","v":0},{"m":"TCP","r":"V8","c":"V2","v":0},{"m":"TCP","r":"V8","c":"V3","v":0.03},{"m":"TCP","r":"V8","c":"V4","v":0.02},{"m":"TCP","r":"V8","c":"V5","v":0},{"m":"TCP","r":"V8","c":"V6","v":0.02},{"m":"TCP","r":"V8","c":"V7","v":0},{"m":"TCP","r":"V8","c":"V9","v":0},{"m":"TCP","r":"V8","c":"V10","v":0},{"m":"TCP","r":"V8","c":"V11","v":0},
{"m":"TCP","r":"V9","c":"V1","v":0},{"m":"TCP","r":"V9","c":"V2","v":0},{"m":"TCP","r":"V9","c":"V3","v":0.02},{"m":"TCP","r":"V9","c":"V4","v":0.03},{"m":"TCP","r":"V9","c":"V5","v":0},{"m":"TCP","r":"V9","c":"V6","v":0.02},{"m":"TCP","r":"V9","c":"V7","v":0},{"m":"TCP","r":"V9","c":"V8","v":0},{"m":"TCP","r":"V9","c":"V10","v":0},{"m":"TCP","r":"V9","c":"V11","v":0},
{"m":"TCP","r":"V10","c":"V1","v":0},{"m":"TCP","r":"V10","c":"V2","v":0},{"m":"TCP","r":"V10","c":"V3","v":0.02},{"m":"TCP","r":"V10","c":"V4","v":0.03},{"m":"TCP","r":"V10","c":"V5","v":0},{"m":"TCP","r":"V10","c":"V6","v":0.02},{"m":"TCP","r":"V10","c":"V7","v":0},{"m":"TCP","r":"V10","c":"V8","v":0},{"m":"TCP","r":"V10","c":"V9","v":0},{"m":"TCP","r":"V10","c":"V11","v":0},
{"m":"TCP","r":"V11","c":"V1","v":0},{"m":"TCP","r":"V11","c":"V2","v":0},{"m":"TCP","r":"V11","c":"V3","v":0.04},{"m":"TCP","r":"V11","c":"V4","v":0.04},{"m":"TCP","r":"V11","c":"V5","v":0},{"m":"TCP","r":"V11","c":"V6","v":0.02},{"m":"TCP","r":"V11","c":"V7","v":0},{"m":"TCP","r":"V11","c":"V8","v":0},{"m":"TCP","r":"V11","c":"V9","v":0},{"m":"TCP","r":"V11","c":"V10","v":0},
{"m":"EUI","r":"V1","c":"V2","v":0},{"m":"EUI","r":"V1","c":"V3","v":0},{"m":"EUI","r":"V1","c":"V4","v":0},{"m":"EUI","r":"V1","c":"V5","v":0},{"m":"EUI","r":"V1","c":"V6","v":0},{"m":"EUI","r":"V1","c":"V7","v":0},{"m":"EUI","r":"V1","c":"V8","v":0.01},{"m":"EUI","r":"V1","c":"V9","v":0},{"m":"EUI","r":"V1","c":"V10","v":0},{"m":"EUI","r":"V1","c":"V11","v":0},
{"m":"EUI","r":"V2","c":"V1","v":0},{"m":"EUI","r":"V2","c":"V3","v":0},{"m":"EUI","r":"V2","c":"V4","v":0},{"m":"EUI","r":"V2","c":"V5","v":0},{"m":"EUI","r":"V2","c":"V6","v":0},{"m":"EUI","r":"V2","c":"V7","v":0},{"m":"EUI","r":"V2","c":"V8","v":0},{"m":"EUI","r":"V2","c":"V9","v":0},{"m":"EUI","r":"V2","c":"V10","v":0},{"m":"EUI","r":"V2","c":"V11","v":0},
{"m":"EUI","r":"V3","c":"V1","v":0},{"m":"EUI","r":"V3","c":"V2","v":0},{"m":"EUI","r":"V3","c":"V4","v":0},{"m":"EUI","r":"V3","c":"V5","v":0},{"m":"EUI","r":"V3","c":"V6","v":0},{"m":"EUI","r":"V3","c":"V7","v":0},{"m":"EUI","r":"V3","c":"V8","v":0.02},{"m":"EUI","r":"V3","c":"V9","v":0},{"m":"EUI","r":"V3","c":"V10","v":0},{"m":"EUI","r":"V3","c":"V11","v":0},
{"m":"EUI","r":"V4","c":"V1","v":0},{"m":"EUI","r":"V4","c":"V2","v":0},{"m":"EUI","r":"V4","c":"V3","v":0},{"m":"EUI","r":"V4","c":"V5","v":0.01},{"m":"EUI","r":"V4","c":"V6","v":0},{"m":"EUI","r":"V4","c":"V7","v":0.01},{"m":"EUI","r":"V4","c":"V8","v":0.01},{"m":"EUI","r":"V4","c":"V9","v":0},{"m":"EUI","r":"V4","c":"V10","v":0},{"m":"EUI","r":"V4","c":"V11","v":0},
{"m":"EUI","r":"V5","c":"V1","v":0},{"m":"EUI","r":"V5","c":"V2","v":0},{"m":"EUI","r":"V5","c":"V3","v":0},{"m":"EUI","r":"V5","c":"V4","v":0.01},{"m":"EUI","r":"V5","c":"V6","v":0},{"m":"EUI","r":"V5","c":"V7","v":0},{"m":"EUI","r":"V5","c":"V8","v":0},{"m":"EUI","r":"V5","c":"V9","v":0},{"m":"EUI","r":"V5","c":"V10","v":0},{"m":"EUI","r":"V5","c":"V11","v":0},
{"m":"EUI","r":"V6","c":"V1","v":0},{"m":"EUI","r":"V6","c":"V2","v":0},{"m":"EUI","r":"V6","c":"V3","v":0},{"m":"EUI","r":"V6","c":"V4","v":0},{"m":"EUI","r":"V6","c":"V5","v":0},{"m":"EUI","r":"V6","c":"V7","v":0},{"m":"EUI","r":"V6","c":"V8","v":0},{"m":"EUI","r":"V6","c":"V9","v":0},{"m":"EUI","r":"V6","c":"V10","v":0},{"m":"EUI","r":"V6","c":"V11","v":0},
{"m":"EUI","r":"V7","c":"V1","v":0},{"m":"EUI","r":"V7","c":"V2","v":0},{"m":"EUI","r":"V7","c":"V3","v":0},{"m":"EUI","r":"V7","c":"V4","v":0.01},{"m":"EUI","r":"V7","c":"V5","v":0},{"m":"EUI","r":"V7","c":"V6","v":0},{"m":"EUI","r":"V7","c":"V8","v":0.01},{"m":"EUI","r":"V7","c":"V9","v":0},{"m":"EUI","r":"V7","c":"V10","v":0},{"m":"EUI","r":"V7","c":"V11","v":0},
{"m":"EUI","r":"V8","c":"V1","v":0.01},{"m":"EUI","r":"V8","c":"V2","v":0},{"m":"EUI","r":"V8","c":"V3","v":0.02},{"m":"EUI","r":"V8","c":"V4","v":0.01},{"m":"EUI","r":"V8","c":"V5","v":0},{"m":"EUI","r":"V8","c":"V6","v":0},{"m":"EUI","r":"V8","c":"V7","v":0.01},{"m":"EUI","r":"V8","c":"V9","v":0},{"m":"EUI","r":"V8","c":"V10","v":0},{"m":"EUI","r":"V8","c":"V11","v":0},
{"m":"EUI","r":"V9","c":"V1","v":0},{"m":"EUI","r":"V9","c":"V2","v":0},{"m":"EUI","r":"V9","c":"V3","v":0},{"m":"EUI","r":"V9","c":"V4","v":0},{"m":"EUI","r":"V9","c":"V5","v":0},{"m":"EUI","r":"V9","c":"V6","v":0},{"m":"EUI","r":"V9","c":"V7","v":0},{"m":"EUI","r":"V9","c":"V8","v":0},{"m":"EUI","r":"V9","c":"V10","v":0},{"m":"EUI","r":"V9","c":"V11","v":0},
{"m":"EUI","r":"V10","c":"V1","v":0},{"m":"EUI","r":"V10","c":"V2","v":0},{"m":"EUI","r":"V10","c":"V3","v":0},{"m":"EUI","r":"V10","c":"V4","v":0},{"m":"EUI","r":"V10","c":"V5","v":0},{"m":"EUI","r":"V10","c":"V6","v":0},{"m":"EUI","r":"V10","c":"V7","v":0},{"m":"EUI","r":"V10","c":"V8","v":0},{"m":"EUI","r":"V10","c":"V9","v":0},{"m":"EUI","r":"V10","c":"V11","v":0},
{"m":"EUI","r":"V11","c":"V1","v":0},{"m":"EUI","r":"V11","c":"V2","v":0},{"m":"EUI","r":"V11","c":"V3","v":0},{"m":"EUI","r":"V11","c":"V4","v":0},{"m":"EUI","r":"V11","c":"V5","v":0},{"m":"EUI","r":"V11","c":"V6","v":0},{"m":"EUI","r":"V11","c":"V7","v":0},{"m":"EUI","r":"V11","c":"V8","v":0},{"m":"EUI","r":"V11","c":"V9","v":0},{"m":"EUI","r":"V11","c":"V10","v":0}
],
"U":[
{"m":"sDA","r":"V1","c":"V2","v":0.15},{"m":"sDA","r":"V1","c":"V3","v":0},{"m":"sDA","r":"V1","c":"V4","v":0},{"m":"sDA","r":"V1","c":"V5","v":0},{"m":"sDA","r":"V1","c":"V6","v":0},{"m":"sDA","r":"V1","c":"V7","v":0},{"m":"sDA","r":"V1","c":"V8","v":0},{"m":"sDA","r":"V1","c":"V9","v":0},{"m":"sDA","r":"V1","c":"V10","v":0},{"m":"sDA","r":"V1","c":"V11","v":0},
{"m":"sDA","r":"V2","c":"V1","v":0.15},{"m":"sDA","r":"V2","c":"V3","v":0},{"m":"sDA","r":"V2","c":"V4","v":0},{"m":"sDA","r":"V2","c":"V5","v":0},{"m":"sDA","r":"V2","c":"V6","v":0},{"m":"sDA","r":"V2","c":"V7","v":0},{"m":"sDA","r":"V2","c":"V8","v":0},{"m":"sDA","r":"V2","c":"V9","v":0},{"m":"sDA","r":"V2","c":"V10","v":0},{"m":"sDA","r":"V2","c":"V11","v":0},
{"m":"sDA","r":"V3","c":"V1","v":0},{"m":"sDA","r":"V3","c":"V2","v":0},{"m":"sDA","r":"V3","c":"V4","v":0},{"m":"sDA","r":"V3","c":"V5","v":0},{"m":"sDA","r":"V3","c":"V6","v":0},{"m":"sDA","r":"V3","c":"V7","v":0},{"m":"sDA","r":"V3","c":"V8","v":0},{"m":"sDA","r":"V3","c":"V9","v":0},{"m":"sDA","r":"V3","c":"V10","v":0},{"m":"sDA","r":"V3","c":"V11","v":0},
{"m":"sDA","r":"V4","c":"V1","v":0},{"m":"sDA","r":"V4","c":"V2","v":0},{"m":"sDA","r":"V4","c":"V3","v":0},{"m":"sDA","r":"V4","c":"V5","v":0},{"m":"sDA","r":"V4","c":"V6","v":0},{"m":"sDA","r":"V4","c":"V7","v":0},{"m":"sDA","r":"V4","c":"V8","v":0},{"m":"sDA","r":"V4","c":"V9","v":0},{"m":"sDA","r":"V4","c":"V10","v":0},{"m":"sDA","r":"V4","c":"V11","v":0},
{"m":"sDA","r":"V5","c":"V1","v":0},{"m":"sDA","r":"V5","c":"V2","v":0},{"m":"sDA","r":"V5","c":"V3","v":0},{"m":"sDA","r":"V5","c":"V4","v":0},{"m":"sDA","r":"V5","c":"V6","v":0.01},{"m":"sDA","r":"V5","c":"V7","v":0.01},{"m":"sDA","r":"V5","c":"V8","v":0.01},{"m":"sDA","r":"V5","c":"V9","v":0.01},{"m":"sDA","r":"V5","c":"V10","v":0.01},{"m":"sDA","r":"V5","c":"V11","v":0.01},
{"m":"sDA","r":"V6","c":"V1","v":0},{"m":"sDA","r":"V6","c":"V2","v":0},{"m":"sDA","r":"V6","c":"V3","v":0},{"m":"sDA","r":"V6","c":"V4","v":0},{"m":"sDA","r":"V6","c":"V5","v":0.01},{"m":"sDA","r":"V6","c":"V7","v":0},{"m":"sDA","r":"V6","c":"V8","v":0},{"m":"sDA","r":"V6","c":"V9","v":0},{"m":"sDA","r":"V6","c":"V10","v":0},{"m":"sDA","r":"V6","c":"V11","v":0},
{"m":"sDA","r":"V7","c":"V1","v":0},{"m":"sDA","r":"V7","c":"V2","v":0},{"m":"sDA","r":"V7","c":"V3","v":0},{"m":"sDA","r":"V7","c":"V4","v":0},{"m":"sDA","r":"V7","c":"V5","v":0.01},{"m":"sDA","r":"V7","c":"V6","v":0},{"m":"sDA","r":"V7","c":"V8","v":0},{"m":"sDA","r":"V7","c":"V9","v":0},{"m":"sDA","r":"V7","c":"V10","v":0},{"m":"sDA","r":"V7","c":"V11","v":0},
{"m":"sDA","r":"V8","c":"V1","v":0},{"m":"sDA","r":"V8","c":"V2","v":0},{"m":"sDA","r":"V8","c":"V3","v":0},{"m":"sDA","r":"V8","c":"V4","v":0},{"m":"sDA","r":"V8","c":"V5","v":0.01},{"m":"sDA","r":"V8","c":"V6","v":0},{"m":"sDA","r":"V8","c":"V7","v":0},{"m":"sDA","r":"V8","c":"V9","v":0},{"m":"sDA","r":"V8","c":"V10","v":0},{"m":"sDA","r":"V8","c":"V11","v":0},
{"m":"sDA","r":"V9","c":"V1","v":0},{"m":"sDA","r":"V9","c":"V2","v":0},{"m":"sDA","r":"V9","c":"V3","v":0},{"m":"sDA","r":"V9","c":"V4","v":0},{"m":"sDA","r":"V9","c":"V5","v":0.01},{"m":"sDA","r":"V9","c":"V6","v":0},{"m":"sDA","r":"V9","c":"V7","v":0},{"m":"sDA","r":"V9","c":"V8","v":0},{"m":"sDA","r":"V9","c":"V10","v":0},{"m":"sDA","r":"V9","c":"V11","v":0},
{"m":"sDA","r":"V10","c":"V1","v":0},{"m":"sDA","r":"V10","c":"V2","v":0},{"m":"sDA","r":"V10","c":"V3","v":0},{"m":"sDA","r":"V10","c":"V4","v":0},{"m":"sDA","r":"V10","c":"V5","v":0.01},{"m":"sDA","r":"V10","c":"V6","v":0},{"m":"sDA","r":"V10","c":"V7","v":0},{"m":"sDA","r":"V10","c":"V8","v":0},{"m":"sDA","r":"V10","c":"V9","v":0},{"m":"sDA","r":"V10","c":"V11","v":0},
{"m":"sDA","r":"V11","c":"V1","v":0},{"m":"sDA","r":"V11","c":"V2","v":0},{"m":"sDA","r":"V11","c":"V3","v":0},{"m":"sDA","r":"V11","c":"V4","v":0},{"m":"sDA","r":"V11","c":"V5","v":0.01},{"m":"sDA","r":"V11","c":"V6","v":0},{"m":"sDA","r":"V11","c":"V7","v":0},{"m":"sDA","r":"V11","c":"V8","v":0},{"m":"sDA","r":"V11","c":"V9","v":0},{"m":"sDA","r":"V11","c":"V10","v":0},
{"m":"sGA","r":"V1","c":"V2","v":0.12},{"m":"sGA","r":"V1","c":"V3","v":0.02},{"m":"sGA","r":"V1","c":"V4","v":0.02},{"m":"sGA","r":"V1","c":"V5","v":0},{"m":"sGA","r":"V1","c":"V6","v":0},{"m":"sGA","r":"V1","c":"V7","v":0},{"m":"sGA","r":"V1","c":"V8","v":0},{"m":"sGA","r":"V1","c":"V9","v":0},{"m":"sGA","r":"V1","c":"V10","v":0},{"m":"sGA","r":"V1","c":"V11","v":0},
{"m":"sGA","r":"V2","c":"V1","v":0.12},{"m":"sGA","r":"V2","c":"V3","v":0.05},{"m":"sGA","r":"V2","c":"V4","v":0.03},{"m":"sGA","r":"V2","c":"V5","v":0.04},{"m":"sGA","r":"V2","c":"V6","v":0.04},{"m":"sGA","r":"V2","c":"V7","v":0.04},{"m":"sGA","r":"V2","c":"V8","v":0.04},{"m":"sGA","r":"V2","c":"V9","v":0.04},{"m":"sGA","r":"V2","c":"V10","v":0.04},{"m":"sGA","r":"V2","c":"V11","v":0.04},
{"m":"sGA","r":"V3","c":"V1","v":0.02},{"m":"sGA","r":"V3","c":"V2","v":0.05},{"m":"sGA","r":"V3","c":"V4","v":0.02},{"m":"sGA","r":"V3","c":"V5","v":0.01},{"m":"sGA","r":"V3","c":"V6","v":0.01},{"m":"sGA","r":"V3","c":"V7","v":0.01},{"m":"sGA","r":"V3","c":"V8","v":0.01},{"m":"sGA","r":"V3","c":"V9","v":0.01},{"m":"sGA","r":"V3","c":"V10","v":0.01},{"m":"sGA","r":"V3","c":"V11","v":0.01},
{"m":"sGA","r":"V4","c":"V1","v":0.02},{"m":"sGA","r":"V4","c":"V2","v":0.03},{"m":"sGA","r":"V4","c":"V3","v":0.02},{"m":"sGA","r":"V4","c":"V5","v":0},{"m":"sGA","r":"V4","c":"V6","v":0},{"m":"sGA","r":"V4","c":"V7","v":0},{"m":"sGA","r":"V4","c":"V8","v":0},{"m":"sGA","r":"V4","c":"V9","v":0},{"m":"sGA","r":"V4","c":"V10","v":0},{"m":"sGA","r":"V4","c":"V11","v":0},
{"m":"sGA","r":"V5","c":"V1","v":0},{"m":"sGA","r":"V5","c":"V2","v":0.04},{"m":"sGA","r":"V5","c":"V3","v":0.01},{"m":"sGA","r":"V5","c":"V4","v":0},{"m":"sGA","r":"V5","c":"V6","v":0},{"m":"sGA","r":"V5","c":"V7","v":0},{"m":"sGA","r":"V5","c":"V8","v":0},{"m":"sGA","r":"V5","c":"V9","v":0},{"m":"sGA","r":"V5","c":"V10","v":0},{"m":"sGA","r":"V5","c":"V11","v":0},
{"m":"sGA","r":"V6","c":"V1","v":0},{"m":"sGA","r":"V6","c":"V2","v":0.04},{"m":"sGA","r":"V6","c":"V3","v":0.01},{"m":"sGA","r":"V6","c":"V4","v":0},{"m":"sGA","r":"V6","c":"V5","v":0},{"m":"sGA","r":"V6","c":"V7","v":0},{"m":"sGA","r":"V6","c":"V8","v":0},{"m":"sGA","r":"V6","c":"V9","v":0},{"m":"sGA","r":"V6","c":"V10","v":0},{"m":"sGA","r":"V6","c":"V11","v":0},
{"m":"sGA","r":"V7","c":"V1","v":0},{"m":"sGA","r":"V7","c":"V2","v":0.04},{"m":"sGA","r":"V7","c":"V3","v":0.01},{"m":"sGA","r":"V7","c":"V4","v":0},{"m":"sGA","r":"V7","c":"V5","v":0},{"m":"sGA","r":"V7","c":"V6","v":0},{"m":"sGA","r":"V7","c":"V8","v":0},{"m":"sGA","r":"V7","c":"V9","v":0},{"m":"sGA","r":"V7","c":"V10","v":0},{"m":"sGA","r":"V7","c":"V11","v":0},
{"m":"sGA","r":"V8","c":"V1","v":0},{"m":"sGA","r":"V8","c":"V2","v":0.04},{"m":"sGA","r":"V8","c":"V3","v":0.01},{"m":"sGA","r":"V8","c":"V4","v":0},{"m":"sGA","r":"V8","c":"V5","v":0},{"m":"sGA","r":"V8","c":"V6","v":0},{"m":"sGA","r":"V8","c":"V7","v":0},{"m":"sGA","r":"V8","c":"V9","v":0},{"m":"sGA","r":"V8","c":"V10","v":0},{"m":"sGA","r":"V8","c":"V11","v":0},
{"m":"sGA","r":"V9","c":"V1","v":0},{"m":"sGA","r":"V9","c":"V2","v":0.04},{"m":"sGA","r":"V9","c":"V3","v":0.01},{"m":"sGA","r":"V9","c":"V4","v":0},{"m":"sGA","r":"V9","c":"V5","v":0},{"m":"sGA","r":"V9","c":"V6","v":0},{"m":"sGA","r":"V9","c":"V7","v":0},{"m":"sGA","r":"V9","c":"V8","v":0},{"m":"sGA","r":"V9","c":"V10","v":0},{"m":"sGA","r":"V9","c":"V11","v":0},
{"m":"sGA","r":"V10","c":"V1","v":0},{"m":"sGA","r":"V10","c":"V2","v":0.04},{"m":"sGA","r":"V10","c":"V3","v":0.01},{"m":"sGA","r":"V10","c":"V4","v":0},{"m":"sGA","r":"V10","c":"V5","v":0},{"m":"sGA","r":"V10","c":"V6","v":0},{"m":"sGA","r":"V10","c":"V7","v":0},{"m":"sGA","r":"V10","c":"V8","v":0},{"m":"sGA","r":"V10","c":"V9","v":0},{"m":"sGA","r":"V10","c":"V11","v":0},
{"m":"sGA","r":"V11","c":"V1","v":0},{"m":"sGA","r":"V11","c":"V2","v":0.04},{"m":"sGA","r":"V11","c":"V3","v":0.01},{"m":"sGA","r":"V11","c":"V4","v":0},{"m":"sGA","r":"V11","c":"V5","v":0},{"m":"sGA","r":"V11","c":"V6","v":0},{"m":"sGA","r":"V11","c":"V7","v":0},{"m":"sGA","r":"V11","c":"V8","v":0},{"m":"sGA","r":"V11","c":"V9","v":0},{"m":"sGA","r":"V11","c":"V10","v":0},
{"m":"TCP","r":"V1","c":"V2","v":0.03},{"m":"TCP","r":"V1","c":"V3","v":0.03},{"m":"TCP","r":"V1","c":"V4","v":0.04},{"m":"TCP","r":"V1","c":"V5","v":0.02},{"m":"TCP","r":"V1","c":"V6","v":0.02},{"m":"TCP","r":"V1","c":"V7","v":0.04},{"m":"TCP","r":"V1","c":"V8","v":0.01},{"m":"TCP","r":"V1","c":"V9","v":0.02},{"m":"TCP","r":"V1","c":"V10","v":0.02},{"m":"TCP","r":"V1","c":"V11","v":0.03},
{"m":"TCP","r":"V2","c":"V1","v":0.03},{"m":"TCP","r":"V2","c":"V3","v":0.02},{"m":"TCP","r":"V2","c":"V4","v":0.01},{"m":"TCP","r":"V2","c":"V5","v":0},{"m":"TCP","r":"V2","c":"V6","v":0},{"m":"TCP","r":"V2","c":"V7","v":0},{"m":"TCP","r":"V2","c":"V8","v":0.01},{"m":"TCP","r":"V2","c":"V9","v":0},{"m":"TCP","r":"V2","c":"V10","v":0},{"m":"TCP","r":"V2","c":"V11","v":0},
{"m":"TCP","r":"V3","c":"V1","v":0.03},{"m":"TCP","r":"V3","c":"V2","v":0.02},{"m":"TCP","r":"V3","c":"V4","v":0.056},{"m":"TCP","r":"V3","c":"V5","v":0.02},{"m":"TCP","r":"V3","c":"V6","v":0.056},{"m":"TCP","r":"V3","c":"V7","v":0.04},{"m":"TCP","r":"V3","c":"V8","v":0.02},{"m":"TCP","r":"V3","c":"V9","v":0.02},{"m":"TCP","r":"V3","c":"V10","v":0.02},{"m":"TCP","r":"V3","c":"V11","v":0},
{"m":"TCP","r":"V4","c":"V1","v":0.04},{"m":"TCP","r":"V4","c":"V2","v":0.01},{"m":"TCP","r":"V4","c":"V3","v":0.056},{"m":"TCP","r":"V4","c":"V5","v":0.01},{"m":"TCP","r":"V4","c":"V6","v":0.01},{"m":"TCP","r":"V4","c":"V7","v":0.01},{"m":"TCP","r":"V4","c":"V8","v":0.01},{"m":"TCP","r":"V4","c":"V9","v":0},{"m":"TCP","r":"V4","c":"V10","v":0.02},{"m":"TCP","r":"V4","c":"V11","v":0},
{"m":"TCP","r":"V5","c":"V1","v":0.02},{"m":"TCP","r":"V5","c":"V2","v":0},{"m":"TCP","r":"V5","c":"V3","v":0.02},{"m":"TCP","r":"V5","c":"V4","v":0.01},{"m":"TCP","r":"V5","c":"V6","v":0.01},{"m":"TCP","r":"V5","c":"V7","v":0.01},{"m":"TCP","r":"V5","c":"V8","v":0.01},{"m":"TCP","r":"V5","c":"V9","v":0.01},{"m":"TCP","r":"V5","c":"V10","v":0.01},{"m":"TCP","r":"V5","c":"V11","v":0.01},
{"m":"TCP","r":"V6","c":"V1","v":0.02},{"m":"TCP","r":"V6","c":"V2","v":0},{"m":"TCP","r":"V6","c":"V3","v":0.056},{"m":"TCP","r":"V6","c":"V4","v":0.01},{"m":"TCP","r":"V6","c":"V5","v":0.01},{"m":"TCP","r":"V6","c":"V7","v":0},{"m":"TCP","r":"V6","c":"V8","v":0.02},{"m":"TCP","r":"V6","c":"V9","v":0.02},{"m":"TCP","r":"V6","c":"V10","v":0.01},{"m":"TCP","r":"V6","c":"V11","v":0.04},
{"m":"TCP","r":"V7","c":"V1","v":0.04},{"m":"TCP","r":"V7","c":"V2","v":0},{"m":"TCP","r":"V7","c":"V3","v":0.04},{"m":"TCP","r":"V7","c":"V4","v":0.01},{"m":"TCP","r":"V7","c":"V5","v":0.01},{"m":"TCP","r":"V7","c":"V6","v":0},{"m":"TCP","r":"V7","c":"V8","v":0.01},{"m":"TCP","r":"V7","c":"V9","v":0},{"m":"TCP","r":"V7","c":"V10","v":0.01},{"m":"TCP","r":"V7","c":"V11","v":0.01},
{"m":"TCP","r":"V8","c":"V1","v":0.01},{"m":"TCP","r":"V8","c":"V2","v":0.01},{"m":"TCP","r":"V8","c":"V3","v":0.02},{"m":"TCP","r":"V8","c":"V4","v":0.01},{"m":"TCP","r":"V8","c":"V5","v":0.01},{"m":"TCP","r":"V8","c":"V6","v":0.02},{"m":"TCP","r":"V8","c":"V7","v":0.01},{"m":"TCP","r":"V8","c":"V9","v":0.04},{"m":"TCP","r":"V8","c":"V10","v":0.03},{"m":"TCP","r":"V8","c":"V11","v":0.03},
{"m":"TCP","r":"V9","c":"V1","v":0.02},{"m":"TCP","r":"V9","c":"V2","v":0},{"m":"TCP","r":"V9","c":"V3","v":0.02},{"m":"TCP","r":"V9","c":"V4","v":0},{"m":"TCP","r":"V9","c":"V5","v":0.01},{"m":"TCP","r":"V9","c":"V6","v":0.02},{"m":"TCP","r":"V9","c":"V7","v":0},{"m":"TCP","r":"V9","c":"V8","v":0.04},{"m":"TCP","r":"V9","c":"V10","v":0.01},{"m":"TCP","r":"V9","c":"V11","v":0.01},
{"m":"TCP","r":"V10","c":"V1","v":0.02},{"m":"TCP","r":"V10","c":"V2","v":0},{"m":"TCP","r":"V10","c":"V3","v":0.02},{"m":"TCP","r":"V10","c":"V4","v":0.02},{"m":"TCP","r":"V10","c":"V5","v":0.01},{"m":"TCP","r":"V10","c":"V6","v":0.01},{"m":"TCP","r":"V10","c":"V7","v":0.01},{"m":"TCP","r":"V10","c":"V8","v":0.03},{"m":"TCP","r":"V10","c":"V9","v":0.01},{"m":"TCP","r":"V10","c":"V11","v":0},
{"m":"TCP","r":"V11","c":"V1","v":0.03},{"m":"TCP","r":"V11","c":"V2","v":0},{"m":"TCP","r":"V11","c":"V3","v":0},{"m":"TCP","r":"V11","c":"V4","v":0},{"m":"TCP","r":"V11","c":"V5","v":0.01},{"m":"TCP","r":"V11","c":"V6","v":0.04},{"m":"TCP","r":"V11","c":"V7","v":0.01},{"m":"TCP","r":"V11","c":"V8","v":0.03},{"m":"TCP","r":"V11","c":"V9","v":0.01},{"m":"TCP","r":"V11","c":"V10","v":0},
{"m":"EUI","r":"V1","c":"V2","v":0},{"m":"EUI","r":"V1","c":"V3","v":0},{"m":"EUI","r":"V1","c":"V4","v":0},{"m":"EUI","r":"V1","c":"V5","v":0},{"m":"EUI","r":"V1","c":"V6","v":0},{"m":"EUI","r":"V1","c":"V7","v":0},{"m":"EUI","r":"V1","c":"V8","v":0.03},{"m":"EUI","r":"V1","c":"V9","v":0},{"m":"EUI","r":"V1","c":"V10","v":0},{"m":"EUI","r":"V1","c":"V11","v":0},
{"m":"EUI","r":"V2","c":"V1","v":0},{"m":"EUI","r":"V2","c":"V3","v":0},{"m":"EUI","r":"V2","c":"V4","v":0},{"m":"EUI","r":"V2","c":"V5","v":0},{"m":"EUI","r":"V2","c":"V6","v":0},{"m":"EUI","r":"V2","c":"V7","v":0},{"m":"EUI","r":"V2","c":"V8","v":0},{"m":"EUI","r":"V2","c":"V9","v":0},{"m":"EUI","r":"V2","c":"V10","v":0},{"m":"EUI","r":"V2","c":"V11","v":0},
{"m":"EUI","r":"V3","c":"V1","v":0},{"m":"EUI","r":"V3","c":"V2","v":0},{"m":"EUI","r":"V3","c":"V4","v":0},{"m":"EUI","r":"V3","c":"V5","v":0},{"m":"EUI","r":"V3","c":"V6","v":0},{"m":"EUI","r":"V3","c":"V7","v":0},{"m":"EUI","r":"V3","c":"V8","v":0.01},{"m":"EUI","r":"V3","c":"V9","v":0},{"m":"EUI","r":"V3","c":"V10","v":0},{"m":"EUI","r":"V3","c":"V11","v":0},
{"m":"EUI","r":"V4","c":"V1","v":0},{"m":"EUI","r":"V4","c":"V2","v":0},{"m":"EUI","r":"V4","c":"V3","v":0},{"m":"EUI","r":"V4","c":"V5","v":0.01},{"m":"EUI","r":"V4","c":"V6","v":0},{"m":"EUI","r":"V4","c":"V7","v":0},{"m":"EUI","r":"V4","c":"V8","v":0},{"m":"EUI","r":"V4","c":"V9","v":0},{"m":"EUI","r":"V4","c":"V10","v":0.01},{"m":"EUI","r":"V4","c":"V11","v":0.01},
{"m":"EUI","r":"V5","c":"V1","v":0},{"m":"EUI","r":"V5","c":"V2","v":0},{"m":"EUI","r":"V5","c":"V3","v":0},{"m":"EUI","r":"V5","c":"V4","v":0.01},{"m":"EUI","r":"V5","c":"V6","v":0},{"m":"EUI","r":"V5","c":"V7","v":0},{"m":"EUI","r":"V5","c":"V8","v":0},{"m":"EUI","r":"V5","c":"V9","v":0},{"m":"EUI","r":"V5","c":"V10","v":0},{"m":"EUI","r":"V5","c":"V11","v":0},
{"m":"EUI","r":"V6","c":"V1","v":0},{"m":"EUI","r":"V6","c":"V2","v":0},{"m":"EUI","r":"V6","c":"V3","v":0},{"m":"EUI","r":"V6","c":"V4","v":0},{"m":"EUI","r":"V6","c":"V5","v":0},{"m":"EUI","r":"V6","c":"V7","v":0},{"m":"EUI","r":"V6","c":"V8","v":0},{"m":"EUI","r":"V6","c":"V9","v":0.01},{"m":"EUI","r":"V6","c":"V10","v":0},{"m":"EUI","r":"V6","c":"V11","v":0},
{"m":"EUI","r":"V7","c":"V1","v":0},{"m":"EUI","r":"V7","c":"V2","v":0},{"m":"EUI","r":"V7","c":"V3","v":0},{"m":"EUI","r":"V7","c":"V4","v":0},{"m":"EUI","r":"V7","c":"V5","v":0},{"m":"EUI","r":"V7","c":"V6","v":0},{"m":"EUI","r":"V7","c":"V8","v":0},{"m":"EUI","r":"V7","c":"V9","v":0.01},{"m":"EUI","r":"V7","c":"V10","v":0},{"m":"EUI","r":"V7","c":"V11","v":0},
{"m":"EUI","r":"V8","c":"V1","v":0.03},{"m":"EUI","r":"V8","c":"V2","v":0},{"m":"EUI","r":"V8","c":"V3","v":0.01},{"m":"EUI","r":"V8","c":"V4","v":0},{"m":"EUI","r":"V8","c":"V5","v":0},{"m":"EUI","r":"V8","c":"V6","v":0},{"m":"EUI","r":"V8","c":"V7","v":0},{"m":"EUI","r":"V8","c":"V9","v":0},{"m":"EUI","r":"V8","c":"V10","v":0},{"m":"EUI","r":"V8","c":"V11","v":0},
{"m":"EUI","r":"V9","c":"V1","v":0},{"m":"EUI","r":"V9","c":"V2","v":0},{"m":"EUI","r":"V9","c":"V3","v":0},{"m":"EUI","r":"V9","c":"V4","v":0},{"m":"EUI","r":"V9","c":"V5","v":0},{"m":"EUI","r":"V9","c":"V6","v":0.01},{"m":"EUI","r":"V9","c":"V7","v":0.01},{"m":"EUI","r":"V9","c":"V8","v":0},{"m":"EUI","r":"V9","c":"V10","v":0},{"m":"EUI","r":"V9","c":"V11","v":0},
{"m":"EUI","r":"V10","c":"V1","v":0},{"m":"EUI","r":"V10","c":"V2","v":0},{"m":"EUI","r":"V10","c":"V3","v":0},{"m":"EUI","r":"V10","c":"V4","v":0.01},{"m":"EUI","r":"V10","c":"V5","v":0},{"m":"EUI","r":"V10","c":"V6","v":0},{"m":"EUI","r":"V10","c":"V7","v":0},{"m":"EUI","r":"V10","c":"V8","v":0},{"m":"EUI","r":"V10","c":"V9","v":0},{"m":"EUI","r":"V10","c":"V11","v":0},
{"m":"EUI","r":"V11","c":"V1","v":0},{"m":"EUI","r":"V11","c":"V2","v":0},{"m":"EUI","r":"V11","c":"V3","v":0},{"m":"EUI","r":"V11","c":"V4","v":0.01},{"m":"EUI","r":"V11","c":"V5","v":0},{"m":"EUI","r":"V11","c":"V6","v":0},{"m":"EUI","r":"V11","c":"V7","v":0},{"m":"EUI","r":"V11","c":"V8","v":0},{"m":"EUI","r":"V11","c":"V9","v":0},{"m":"EUI","r":"V11","c":"V10","v":0}
]
},
"hconcat":[
{"vconcat":[
{"width":458,"height":39,"view":{"fill":"#a6a6a6","stroke":"#595959","strokeWidth":1},"data":{"values":[{"t":"Lower Floor Position (3m)"}]},"mark":{"type":"text","font":"Liberation Sans","fontWeight":"bold","fontSize":31.5,"color":"black","baseline":"middle","dy":1},"encoding":{"text":{"field":"t","type":"nominal"}}},
{"width":458,"height":1564,"view":{"stroke":"#a0a0a0","strokeWidth":1},
"layer":[
{"data":{"name":"L"},"mark":{"type":"rect","stroke":"white","strokeWidth":1},"encoding":{
"x":{"field":"c","type":"nominal","axis":null,"scale":{"domain":["lab","V1","V2","V3","V4","V5","V6","V7","V8","V9","V10","V11"],"paddingInner":0,"paddingOuter":1.15625,"align":0.2027}},
"y":{"field":"m","type":"nominal","axis":null,"scale":{"domain":["sDA","sGA","TCP","EUI"],"paddingInner":0,"paddingOuter":0.005}},
"yOffset":{"field":"r","type":"nominal","scale":{"domain":["V1","V2","V3","V4","V5","V6","V7","V8","V9","V10","V11"],"paddingInner":0,"paddingOuter":0.575,"align":0}},
"color":{"field":"v","type":"quantitative","scale":{"scheme":"viridis","domain":[0,0.08],"clamp":true},"legend":{"title":"S2","orient":"none","legendX":1469,"legendY":1114,"direction":"vertical","gradientLength":451,"gradientThickness":18,"values":[0,0.01,0.02,0.03,0.04,0.05,0.06,0.07,0.08],"format":".2f","labelExpr":"'- ' + datum.label","labelFont":"DejaVu Sans","labelFontSize":14,"labelColor":"#262626","titleFont":"Liberation Sans","titleFontSize":17,"titleFontWeight":"bold","titleColor":"black","titlePadding":6,"labelOffset":2}}}},
{"data":{"name":"L"},"mark":{"type":"text","fontSize":11.5,"font":"DejaVu Sans"},"encoding":{
"x":{"field":"c","type":"nominal"},"y":{"field":"m","type":"nominal"},"yOffset":{"field":"r","type":"nominal"},
"text":{"field":"v","type":"quantitative","format":".2f"},
"color":{"condition":{"test":"datum.v >= 0.0565","value":"#262626"},"value":"white"}}},
{"data":{"name":"L"},"transform":[{"aggregate":[{"op":"count","as":"n"}],"groupby":["m","r"]}],"mark":{"type":"text","fontSize":12,"font":"DejaVu Sans","angle":270,"baseline":"middle","align":"center","color":"#262626"},"encoding":{
"x":{"datum":"lab","type":"nominal"},"y":{"field":"m","type":"nominal"},"yOffset":{"field":"r","type":"nominal"},"text":{"field":"r","type":"nominal"}}},
{"data":{"name":"L"},"transform":[{"aggregate":[{"op":"count","as":"n"}],"groupby":["m","r"]}],"mark":{"type":"tick","orient":"horizontal","size":4,"thickness":1,"xOffset":14,"color":"#262626"},"encoding":{
"x":{"datum":"lab","type":"nominal"},"y":{"field":"m","type":"nominal"},"yOffset":{"field":"r","type":"nominal"}}},
{"data":{"name":"L"},"transform":[{"aggregate":[{"op":"count","as":"n"}],"groupby":["m","c"]}],"mark":{"type":"text","fontSize":6,"font":"DejaVu Sans","baseline":"middle","align":"center","dy":18.5,"color":"#262626"},"encoding":{
"x":{"field":"c","type":"nominal"},"y":{"field":"m","type":"nominal"},"yOffset":{"datum":"V11","type":"nominal"},"text":{"value":"|"}}},
{"data":{"name":"L"},"transform":[{"aggregate":[{"op":"count","as":"n"}],"groupby":["m","c"]}],"mark":{"type":"text","fontSize":12,"font":"DejaVu Sans","baseline":"middle","align":"center","dy":31,"color":"#262626"},"encoding":{
"x":{"field":"c","type":"nominal"},"y":{"field":"m","type":"nominal"},"yOffset":{"datum":"V11","type":"nominal"},"text":{"field":"c","type":"nominal"}}},
{"data":{"name":"hl"},"transform":[{"filter":"datum.f == 'L'"}],"mark":{"type":"rect","fill":"#440154","stroke":"black","strokeWidth":2},"encoding":{
"x":{"field":"c","type":"nominal"},"y":{"field":"m","type":"nominal"},"yOffset":{"field":"r","type":"nominal"}}},
{"data":{"name":"hl"},"transform":[{"filter":"datum.f == 'L'"}],"mark":{"type":"text","fontSize":14,"font":"DejaVu Sans","color":"white"},"encoding":{
"x":{"field":"c","type":"nominal"},"y":{"field":"m","type":"nominal"},"yOffset":{"field":"r","type":"nominal"},"text":{"field":"v","type":"quantitative","format":".2f"}}},
{"data":{"name":"rows"},"transform":[{"filter":"datum.sub != ''"}],"mark":{"type":"text","font":"Liberation Sans","fontWeight":"bold","fontSize":31,"angle":270,"align":"left","baseline":"alphabetic","dx":-74,"dy":-43,"color":"black"},"encoding":{
"x":{"datum":"lab","type":"nominal"},"y":{"field":"m","type":"nominal"},"text":{"field":"main","type":"nominal"}}},
{"data":{"name":"rows"},"transform":[{"filter":"datum.sub != ''"}],"mark":{"type":"text","font":"Liberation Sans","fontWeight":"bold","fontSize":21.5,"angle":270,"align":"left","baseline":"alphabetic","dx":-10,"dy":-37,"color":"black"},"encoding":{
"x":{"datum":"lab","type":"nominal"},"y":{"field":"m","type":"nominal"},"text":{"field":"sub","type":"nominal"}}},
{"data":{"name":"rows"},"transform":[{"filter":"datum.sub == ''"}],"mark":{"type":"text","font":"Liberation Sans","fontWeight":"bold","fontSize":31,"angle":270,"align":"center","baseline":"alphabetic","dy":-43,"color":"black"},"encoding":{
"x":{"datum":"lab","type":"nominal"},"y":{"field":"m","type":"nominal"},"text":{"field":"main","type":"nominal"}}}
]}
],"spacing":0,"bounds":"flush","resolve":{"scale":{"yOffset":"independent"}}},
{"vconcat":[
{"width":458,"height":39,"view":{"fill":"#a6a6a6","stroke":"#595959","strokeWidth":1},"data":{"values":[{"t":"Middle Floor Position (18m)"}]},"mark":{"type":"text","font":"Liberation Sans","fontWeight":"bold","fontSize":31.5,"color":"black","baseline":"middle","dy":1},"encoding":{"text":{"field":"t","type":"nominal"}}},
{"width":458,"height":1564,"view":{"stroke":"#a0a0a0","strokeWidth":1},
"layer":[
{"data":{"name":"M"},"mark":{"type":"rect","stroke":"white","strokeWidth":1},"encoding":{
"x":{"field":"c","type":"nominal","axis":null,"scale":{"domain":["lab","V1","V2","V3","V4","V5","V6","V7","V8","V9","V10","V11"],"paddingInner":0,"paddingOuter":1.15625,"align":0.2027}},
"y":{"field":"m","type":"nominal","axis":null,"scale":{"domain":["sDA","sGA","TCP","EUI"],"paddingInner":0,"paddingOuter":0.005}},
"yOffset":{"field":"r","type":"nominal","scale":{"domain":["V1","V2","V3","V4","V5","V6","V7","V8","V9","V10","V11"],"paddingInner":0,"paddingOuter":0.575,"align":0}},
"color":{"field":"v","type":"quantitative","scale":{"scheme":"viridis","domain":[0,0.08],"clamp":true},"legend":{"title":"S2","orient":"none","legendX":1469,"legendY":1114,"direction":"vertical","gradientLength":451,"gradientThickness":18,"values":[0,0.01,0.02,0.03,0.04,0.05,0.06,0.07,0.08],"format":".2f","labelExpr":"'- ' + datum.label","labelFont":"DejaVu Sans","labelFontSize":14,"labelColor":"#262626","titleFont":"Liberation Sans","titleFontSize":17,"titleFontWeight":"bold","titleColor":"black","titlePadding":6,"labelOffset":2}}}},
{"data":{"name":"M"},"mark":{"type":"text","fontSize":11.5,"font":"DejaVu Sans"},"encoding":{
"x":{"field":"c","type":"nominal"},"y":{"field":"m","type":"nominal"},"yOffset":{"field":"r","type":"nominal"},
"text":{"field":"v","type":"quantitative","format":".2f"},
"color":{"condition":{"test":"datum.v >= 0.0565","value":"#262626"},"value":"white"}}},
{"data":{"name":"M"},"transform":[{"aggregate":[{"op":"count","as":"n"}],"groupby":["m","r"]}],"mark":{"type":"text","fontSize":12,"font":"DejaVu Sans","angle":270,"baseline":"middle","align":"center","color":"#262626"},"encoding":{
"x":{"datum":"lab","type":"nominal"},"y":{"field":"m","type":"nominal"},"yOffset":{"field":"r","type":"nominal"},"text":{"field":"r","type":"nominal"}}},
{"data":{"name":"M"},"transform":[{"aggregate":[{"op":"count","as":"n"}],"groupby":["m","r"]}],"mark":{"type":"tick","orient":"horizontal","size":4,"thickness":1,"xOffset":14,"color":"#262626"},"encoding":{
"x":{"datum":"lab","type":"nominal"},"y":{"field":"m","type":"nominal"},"yOffset":{"field":"r","type":"nominal"}}},
{"data":{"name":"M"},"transform":[{"aggregate":[{"op":"count","as":"n"}],"groupby":["m","c"]}],"mark":{"type":"text","fontSize":6,"font":"DejaVu Sans","baseline":"middle","align":"center","dy":18.5,"color":"#262626"},"encoding":{
"x":{"field":"c","type":"nominal"},"y":{"field":"m","type":"nominal"},"yOffset":{"datum":"V11","type":"nominal"},"text":{"value":"|"}}},
{"data":{"name":"M"},"transform":[{"aggregate":[{"op":"count","as":"n"}],"groupby":["m","c"]}],"mark":{"type":"text","fontSize":12,"font":"DejaVu Sans","baseline":"middle","align":"center","dy":31,"color":"#262626"},"encoding":{
"x":{"field":"c","type":"nominal"},"y":{"field":"m","type":"nominal"},"yOffset":{"datum":"V11","type":"nominal"},"text":{"field":"c","type":"nominal"}}}
]}
],"spacing":0,"bounds":"flush","resolve":{"scale":{"yOffset":"independent"}}},
{"vconcat":[
{"width":458,"height":39,"view":{"fill":"#a6a6a6","stroke":"#595959","strokeWidth":1},"data":{"values":[{"t":"Upper Floor Position (33m)"}]},"mark":{"type":"text","font":"Liberation Sans","fontWeight":"bold","fontSize":31.5,"color":"black","baseline":"middle","dy":1},"encoding":{"text":{"field":"t","type":"nominal"}}},
{"width":458,"height":1564,"view":{"stroke":"#a0a0a0","strokeWidth":1},
"layer":[
{"data":{"name":"U"},"mark":{"type":"rect","stroke":"white","strokeWidth":1},"encoding":{
"x":{"field":"c","type":"nominal","axis":null,"scale":{"domain":["lab","V1","V2","V3","V4","V5","V6","V7","V8","V9","V10","V11"],"paddingInner":0,"paddingOuter":1.15625,"align":0.2027}},
"y":{"field":"m","type":"nominal","axis":null,"scale":{"domain":["sDA","sGA","TCP","EUI"],"paddingInner":0,"paddingOuter":0.005}},
"yOffset":{"field":"r","type":"nominal","scale":{"domain":["V1","V2","V3","V4","V5","V6","V7","V8","V9","V10","V11"],"paddingInner":0,"paddingOuter":0.575,"align":0}},
"color":{"field":"v","type":"quantitative","scale":{"scheme":"viridis","domain":[0,0.08],"clamp":true},"legend":{"title":"S2","orient":"none","legendX":1469,"legendY":1114,"direction":"vertical","gradientLength":451,"gradientThickness":18,"values":[0,0.01,0.02,0.03,0.04,0.05,0.06,0.07,0.08],"format":".2f","labelExpr":"'- ' + datum.label","labelFont":"DejaVu Sans","labelFontSize":14,"labelColor":"#262626","titleFont":"Liberation Sans","titleFontSize":17,"titleFontWeight":"bold","titleColor":"black","titlePadding":6,"labelOffset":2}}}},
{"data":{"name":"U"},"mark":{"type":"text","fontSize":11.5,"font":"DejaVu Sans"},"encoding":{
"x":{"field":"c","type":"nominal"},"y":{"field":"m","type":"nominal"},"yOffset":{"field":"r","type":"nominal"},
"text":{"field":"v","type":"quantitative","format":".2f"},
"color":{"condition":{"test":"datum.v >= 0.0565","value":"#262626"},"value":"white"}}},
{"data":{"name":"U"},"transform":[{"aggregate":[{"op":"count","as":"n"}],"groupby":["m","r"]}],"mark":{"type":"text","fontSize":12,"font":"DejaVu Sans","angle":270,"baseline":"middle","align":"center","color":"#262626"},"encoding":{
"x":{"datum":"lab","type":"nominal"},"y":{"field":"m","type":"nominal"},"yOffset":{"field":"r","type":"nominal"},"text":{"field":"r","type":"nominal"}}},
{"data":{"name":"U"},"transform":[{"aggregate":[{"op":"count","as":"n"}],"groupby":["m","r"]}],"mark":{"type":"tick","orient":"horizontal","size":4,"thickness":1,"xOffset":14,"color":"#262626"},"encoding":{
"x":{"datum":"lab","type":"nominal"},"y":{"field":"m","type":"nominal"},"yOffset":{"field":"r","type":"nominal"}}},
{"data":{"name":"U"},"transform":[{"aggregate":[{"op":"count","as":"n"}],"groupby":["m","c"]}],"mark":{"type":"text","fontSize":6,"font":"DejaVu Sans","baseline":"middle","align":"center","dy":18.5,"color":"#262626"},"encoding":{
"x":{"field":"c","type":"nominal"},"y":{"field":"m","type":"nominal"},"yOffset":{"datum":"V11","type":"nominal"},"text":{"value":"|"}}},
{"data":{"name":"U"},"transform":[{"aggregate":[{"op":"count","as":"n"}],"groupby":["m","c"]}],"mark":{"type":"text","fontSize":12,"font":"DejaVu Sans","baseline":"middle","align":"center","dy":31,"color":"#262626"},"encoding":{
"x":{"field":"c","type":"nominal"},"y":{"field":"m","type":"nominal"},"yOffset":{"datum":"V11","type":"nominal"},"text":{"field":"c","type":"nominal"}}},
{"data":{"name":"hl"},"transform":[{"filter":"datum.f == 'U'"}],"mark":{"type":"rect","fill":"#440154","stroke":"white","strokeWidth":2},"encoding":{
"x":{"field":"c","type":"nominal"},"y":{"field":"m","type":"nominal"},"yOffset":{"field":"r","type":"nominal"}}},
{"data":{"name":"hl"},"transform":[{"filter":"datum.f == 'U'"}],"mark":{"type":"text","fontSize":14,"font":"DejaVu Sans","color":"white"},"encoding":{
"x":{"field":"c","type":"nominal"},"y":{"field":"m","type":"nominal"},"yOffset":{"field":"r","type":"nominal"},"text":{"field":"v","type":"quantitative","format":".2f"}}}
]}
],"spacing":0,"bounds":"flush","resolve":{"scale":{"yOffset":"independent"}}}
],
"spacing":34,
"resolve":{"scale":{"color":"shared","yOffset":"independent"}}
}
